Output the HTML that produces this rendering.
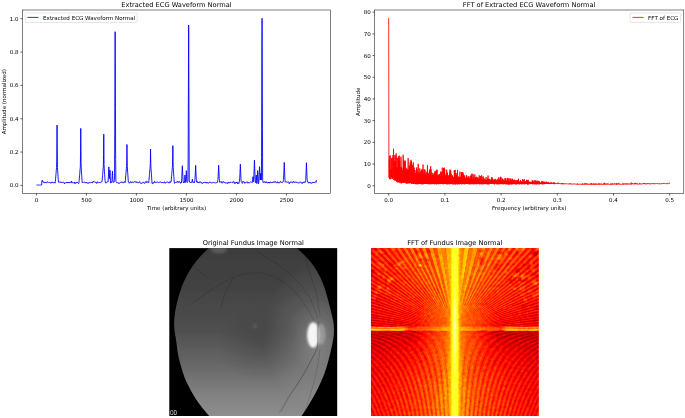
<!DOCTYPE html>
<html><head><meta charset="utf-8"><title>ECG and Fundus FFT</title>
<style>html,body{margin:0;padding:0;background:#fff}svg{display:block}</style></head>
<body>
<svg width="685" height="418" viewBox="0 0 685 418" font-family="'DejaVu Sans', 'Liberation Sans', sans-serif" fill="#000">
<defs>
<clipPath id="fclip"><polygon points="296.65,248.10 301.65,252.41 306.03,256.71 309.86,261.02 313.19,265.32 316.06,269.63 318.54,273.93 320.68,278.24 322.52,282.54 324.13,286.85 325.55,291.15 326.83,295.46 328.01,299.76 329.13,304.07 330.22,308.37 331.32,312.68 332.34,316.98 333.20,321.29 333.79,325.59 334.02,329.90 333.84,334.20 333.33,338.51 332.57,342.81 331.65,347.12 330.66,351.42 329.64,355.73 328.56,360.03 327.38,364.34 326.07,368.64 324.59,372.95 322.94,377.25 321.12,381.56 319.14,385.86 317.01,390.17 314.74,394.47 312.34,398.78 309.81,403.08 307.18,407.39 304.44,411.69 301.61,416.00 209.14,416.00 205.51,411.69 201.96,407.39 198.64,403.08 195.69,398.78 193.09,394.47 190.69,390.17 188.39,385.86 186.28,381.56 184.48,377.25 183.00,372.95 181.70,368.64 180.46,364.34 179.29,360.03 178.28,355.73 177.52,351.42 176.97,347.12 176.46,342.81 175.82,338.51 175.09,334.20 174.45,329.90 174.09,325.59 174.11,321.29 174.44,316.98 175.03,312.68 175.80,308.37 176.70,304.07 177.73,299.76 178.92,295.46 180.27,291.15 181.80,286.85 183.53,282.54 185.50,278.24 187.73,273.93 190.27,269.63 193.14,265.32 196.40,261.02 200.06,256.71 204.17,252.41 208.76,248.10"/></clipPath>
<clipPath id="fbox"><rect x="169.3" y="248.1" width="167.9" height="167.9"/></clipPath>
<linearGradient id="fg" x1="0" y1="0" x2="0" y2="1">
<stop offset="0" stop-color="#3d3d3d"/><stop offset="0.25" stop-color="#434343"/><stop offset="0.5" stop-color="#505050"/><stop offset="0.7" stop-color="#686868"/><stop offset="0.88" stop-color="#828282"/><stop offset="1" stop-color="#8e8e8e"/></linearGradient>
<radialGradient id="fdh" cx="0.5" cy="0.5" r="0.5"><stop offset="0" stop-color="#fff" stop-opacity="0.26"/><stop offset="0.5" stop-color="#fff" stop-opacity="0.09"/><stop offset="1" stop-color="#fff" stop-opacity="0"/></radialGradient>
<radialGradient id="fdark" cx="0.5" cy="0.5" r="0.5"><stop offset="0" stop-color="#000" stop-opacity="0.14"/><stop offset="1" stop-color="#000" stop-opacity="0"/></radialGradient>
<filter id="fb1" x="-50%" y="-50%" width="200%" height="200%"><feGaussianBlur stdDeviation="1.1"/></filter>
<filter id="fb2" x="-20%" y="-20%" width="140%" height="140%"><feGaussianBlur stdDeviation="0.45"/></filter>
<filter id="fb3" x="-5%" y="-5%" width="110%" height="110%"><feGaussianBlur stdDeviation="0.5"/></filter>
<filter id="hot" x="370.95" y="248.1" width="167.9" height="167.9" color-interpolation-filters="sRGB" filterUnits="userSpaceOnUse">
<feTurbulence type="fractalNoise" baseFrequency="0.33" numOctaves="2" seed="4" result="n"/>
<feColorMatrix in="n" type="matrix" values="0.6 0.6 0 0 -0.1  0.6 0.6 0 0 -0.1  0.6 0.6 0 0 -0.1  0 0 0 0 1" result="ng"/>
<feComposite in="SourceGraphic" in2="ng" operator="arithmetic" k1="0" k2="1" k3="0.14" k4="-0.07" result="tn"/>
<feComponentTransfer in="tn"><feFuncR type="table" tableValues="0.000 0.068 0.137 0.205 0.274 0.342 0.411 0.479 0.548 0.616 0.685 0.753 0.822 0.890 0.959 1.000 1.000 1.000 1.000 1.000 1.000 1.000 1.000 1.000 1.000 1.000 1.000 1.000 1.000 1.000 1.000 1.000 1.000 1.000 1.000 1.000 1.000 1.000 1.000 1.000 1.000"/><feFuncG type="table" tableValues="0.000 0.000 0.000 0.000 0.000 0.000 0.000 0.000 0.000 0.000 0.000 0.000 0.000 0.000 0.000 0.026 0.092 0.157 0.223 0.289 0.354 0.420 0.485 0.551 0.617 0.682 0.748 0.814 0.879 0.945 1.000 1.000 1.000 1.000 1.000 1.000 1.000 1.000 1.000 1.000 1.000"/><feFuncB type="table" tableValues="0.000 0.000 0.000 0.000 0.000 0.000 0.000 0.000 0.000 0.000 0.000 0.000 0.000 0.000 0.000 0.000 0.000 0.000 0.000 0.000 0.000 0.000 0.000 0.000 0.000 0.000 0.000 0.000 0.000 0.000 0.016 0.114 0.212 0.311 0.409 0.508 0.606 0.705 0.803 0.902 1.000"/></feComponentTransfer></filter>
<clipPath id="gbox"><rect x="370.95" y="248.1" width="167.9" height="167.9"/></clipPath>
<radialGradient id="grad" gradientUnits="userSpaceOnUse" cx="454.9" cy="332.05" r="120">
<stop offset="0" stop-color="#fff" stop-opacity="0.16"/><stop offset="0.25" stop-color="#fff" stop-opacity="0.06"/><stop offset="0.5" stop-color="#000" stop-opacity="0"/><stop offset="1" stop-color="#000" stop-opacity="0.10"/></radialGradient>
<linearGradient id="gv" x1="0" y1="0" x2="1" y2="0"><stop offset="0.0000" stop-color="#919191" stop-opacity="0.00"/><stop offset="0.1500" stop-color="#969696" stop-opacity="0.35"/><stop offset="0.2400" stop-color="#9e9e9e" stop-opacity="0.70"/><stop offset="0.3050" stop-color="#ababab" stop-opacity="0.95"/><stop offset="0.3500" stop-color="#c1c1c1" stop-opacity="1.00"/><stop offset="0.3900" stop-color="#c8c8c8" stop-opacity="1.00"/><stop offset="0.5000" stop-color="#cccccc" stop-opacity="1.00"/><stop offset="0.6100" stop-color="#c8c8c8" stop-opacity="1.00"/><stop offset="0.6500" stop-color="#c1c1c1" stop-opacity="1.00"/><stop offset="0.6950" stop-color="#ababab" stop-opacity="0.95"/><stop offset="0.7600" stop-color="#9e9e9e" stop-opacity="0.70"/><stop offset="0.8500" stop-color="#969696" stop-opacity="0.35"/><stop offset="1.0000" stop-color="#919191" stop-opacity="0.00"/></linearGradient>
<radialGradient id="gcore" cx="0.5" cy="0.5" r="0.5"><stop offset="0" stop-color="#fff" stop-opacity="0.9"/><stop offset="0.5" stop-color="#fff" stop-opacity="0.5"/><stop offset="1" stop-color="#fff" stop-opacity="0"/></radialGradient>
<linearGradient id="ghb" x1="0" y1="0" x2="1" y2="0">
<stop offset="0" stop-color="#fff" stop-opacity="0.34"/><stop offset="0.2" stop-color="#fff" stop-opacity="0.34"/><stop offset="0.23" stop-color="#fff" stop-opacity="0.14"/><stop offset="0.4" stop-color="#fff" stop-opacity="0.15"/><stop offset="0.5" stop-color="#fff" stop-opacity="0.28"/><stop offset="0.6" stop-color="#fff" stop-opacity="0.15"/><stop offset="0.77" stop-color="#fff" stop-opacity="0.14"/><stop offset="0.8" stop-color="#fff" stop-opacity="0.34"/><stop offset="1" stop-color="#fff" stop-opacity="0.34"/></linearGradient>
<radialGradient id="gcen" cx="0.5" cy="0.5" r="0.5"><stop offset="0" stop-color="#8f8f8f" stop-opacity="0.9"/><stop offset="0.3" stop-color="#858585" stop-opacity="0.6"/><stop offset="1" stop-color="#808080" stop-opacity="0"/></radialGradient>
<filter id="gb2" x="370.95" y="248.1" width="167.9" height="167.9" filterUnits="userSpaceOnUse"><feGaussianBlur stdDeviation="0.4"/></filter>
<filter id="gb" x="-5%" y="-50%" width="110%" height="200%"><feGaussianBlur stdDeviation="0.5"/></filter>
</defs>
<rect width="685" height="418" fill="#fff"/>
<path d="M36.45,185.05 36.65,185.05 36.85,185.05 37.05,185.05 37.25,185.05 37.45,185.05 37.65,185.05 37.85,185.05 38.05,185.05 38.25,185.05 38.45,185.05 38.65,185.05 38.85,185.05 39.05,185.05 39.25,185.05 39.45,185.05 39.65,185.05 39.85,185.05 40.05,185.05 40.25,185.05 40.45,185.05 40.65,185.05 40.85,185.05 41.05,185.05 41.25,185.05 41.45,185.05 41.65,185.05 41.95,180.38 42.05,180.38 42.25,180.38 42.45,180.38 42.65,181.72 42.85,181.72 43.05,181.72 43.25,181.72 43.55,182.41 43.75,181.89 43.95,181.92 44.05,181.98 44.35,182.56 44.45,182.57 44.75,182.74 44.95,182.90 45.15,182.45 45.35,182.12 45.45,182.07 45.65,182.70 45.95,182.43 46.05,182.45 46.35,182.36 46.45,182.65 46.75,182.81 46.85,182.35 47.15,181.89 47.35,181.84 47.55,181.82 47.75,182.25 47.85,182.21 48.15,182.49 48.25,182.35 48.55,182.37 48.65,182.28 48.95,182.08 49.15,181.96 49.25,182.04 49.55,182.38 49.65,182.71 49.85,182.91 50.15,183.23 50.35,182.71 50.55,182.78 50.65,182.66 50.85,182.77 51.05,183.02 51.25,182.94 51.55,183.01 51.75,182.26 51.95,182.16 52.15,181.91 52.25,182.29 52.45,181.93 52.75,182.43 52.95,182.33 53.15,182.70 53.25,182.92 53.55,182.87 53.75,182.71 53.95,182.34 54.05,182.57 54.35,182.52 54.55,182.58 54.65,182.35 54.95,183.01 55.05,183.14 55.35,181.55 55.55,179.22 55.75,176.88 55.95,174.55 56.15,172.21 56.35,169.88 56.55,167.55 56.75,161.05 56.95,137.04 57.05,125.04 57.25,149.04 57.45,167.55 57.65,170.46 57.85,173.38 58.05,176.30 58.25,179.22 58.45,182.13 58.65,182.39 58.85,182.40 59.15,182.60 59.25,182.41 59.55,182.20 59.75,181.97 59.95,181.63 60.15,181.81 60.25,181.88 60.55,182.31 60.65,182.08 60.95,181.90 61.05,182.17 61.35,182.53 61.55,182.68 61.75,182.30 61.85,182.39 62.15,182.54 62.25,182.34 62.55,182.37 62.65,182.10 62.85,182.50 63.15,182.27 63.35,182.26 63.45,182.07 63.75,181.99 63.85,182.10 64.15,182.69 64.25,182.93 64.45,183.77 64.65,183.26 64.95,183.18 65.15,182.97 65.25,183.04 65.55,182.90 65.75,182.71 65.95,182.43 66.15,182.24 66.25,182.07 66.55,182.75 66.75,182.74 66.95,182.47 67.05,182.38 67.25,182.95 67.45,182.87 67.75,182.86 67.95,182.15 68.05,182.55 68.35,182.17 68.45,182.86 68.65,182.73 68.95,183.01 69.15,182.50 69.35,182.54 69.45,182.33 69.65,182.78 69.85,182.80 70.15,182.66 70.35,182.28 70.55,182.43 70.65,182.62 70.95,182.64 71.05,182.10 71.35,181.06 71.45,181.21 71.75,182.03 71.85,182.95 72.15,183.09 72.35,182.81 72.55,182.45 72.75,182.51 72.85,182.59 73.05,182.66 73.25,182.84 73.55,182.72 73.75,182.44 73.95,182.33 74.05,182.37 74.35,182.31 74.45,182.14 74.65,183.16 74.85,183.80 75.15,183.66 75.35,182.72 75.45,182.89 75.75,183.09 75.85,183.10 76.15,182.42 76.25,182.11 76.55,182.33 76.65,182.55 76.85,182.74 77.05,182.58 77.35,182.03 77.45,182.42 77.75,182.52 77.85,182.78 78.05,182.93 78.25,183.29 78.45,183.60 78.75,183.49 78.95,182.72 79.15,180.38 79.35,178.05 79.55,175.71 79.75,173.38 79.95,171.05 80.15,168.71 80.35,166.38 80.55,151.04 80.75,128.37 80.85,139.71 81.05,162.38 81.25,169.01 81.45,171.92 81.65,174.84 81.85,177.76 82.05,180.67 82.25,182.52 82.55,182.94 82.75,182.58 82.85,182.54 83.15,182.18 83.25,182.19 83.55,182.27 83.75,182.30 83.85,182.20 84.05,182.28 84.25,182.14 84.55,182.11 84.75,182.29 84.85,182.63 85.05,182.92 85.35,182.95 85.45,182.69 85.75,182.88 85.85,182.56 86.15,182.97 86.25,182.41 86.45,182.95 86.75,182.79 86.95,182.87 87.15,182.61 87.25,182.61 87.45,183.03 87.65,183.40 87.95,183.48 88.15,183.22 88.35,183.43 88.55,183.31 88.75,182.75 88.85,182.27 89.15,182.26 89.25,182.19 89.45,182.74 89.65,182.80 89.95,182.80 90.15,182.56 90.35,182.43 90.45,182.48 90.75,182.75 90.95,182.64 91.15,182.53 91.25,182.07 91.45,182.29 91.75,182.68 91.85,182.73 92.15,182.96 92.25,182.56 92.55,182.80 92.75,182.07 92.95,181.81 93.15,181.19 93.35,181.61 93.55,181.61 93.65,181.90 93.95,181.85 94.05,181.85 94.25,182.16 94.45,182.00 94.75,181.82 94.95,181.68 95.05,181.77 95.35,182.02 95.45,182.01 95.65,182.54 95.85,182.72 96.05,182.43 96.25,182.45 96.45,182.88 96.65,183.49 96.95,182.95 97.15,182.03 97.35,181.67 97.45,181.93 97.65,182.18 97.85,182.54 98.05,182.67 98.25,182.71 98.45,182.51 98.75,182.69 98.85,182.81 99.15,182.70 99.25,182.82 99.45,182.53 99.65,182.20 99.85,182.62 100.15,182.77 100.35,182.43 100.55,182.38 100.65,182.41 100.85,182.46 101.15,182.22 101.35,182.04 101.55,182.22 101.75,182.02 101.85,181.90 102.15,180.38 102.35,178.05 102.55,175.71 102.75,173.38 102.95,171.05 103.15,168.71 103.35,166.38 103.55,154.54 103.75,134.21 103.85,144.38 104.05,164.71 104.25,169.01 104.45,171.92 104.65,174.84 104.85,177.76 105.05,180.67 105.35,182.64 105.45,182.50 105.65,183.08 105.85,182.97 106.15,183.10 106.35,182.83 106.45,182.65 106.75,182.33 106.95,182.17 107.15,181.80 107.25,182.10 107.55,182.01 107.65,181.96 107.85,182.07 108.15,181.01 108.35,176.97 108.55,172.94 108.75,168.90 108.85,166.88 109.05,170.92 109.25,174.96 109.55,178.62 109.75,174.33 109.95,170.05 110.05,172.19 110.25,176.48 110.45,180.76 110.65,183.10 110.95,182.53 111.05,182.77 111.35,181.96 111.45,182.10 111.75,182.32 111.95,181.10 112.15,177.14 112.35,173.19 112.45,171.21 112.65,175.17 112.85,179.12 113.05,182.21 113.25,182.22 113.55,182.60 113.75,182.29 113.95,182.25 114.15,182.05 114.35,180.76 114.55,179.33 114.75,133.93 114.95,82.81 115.15,31.69 115.25,57.25 115.45,108.37 115.65,159.49 115.85,180.05 116.05,181.48 116.35,182.39 116.55,182.68 116.65,182.54 116.85,182.77 117.05,182.60 117.25,182.72 117.55,182.63 117.65,182.58 117.95,182.54 118.05,182.35 118.25,182.59 118.45,182.73 118.65,183.53 118.95,183.19 119.15,183.35 119.35,183.29 119.45,183.41 119.75,183.07 119.85,182.73 120.15,182.52 120.25,182.27 120.55,182.26 120.65,182.26 120.85,182.03 121.15,181.80 121.25,181.91 121.55,182.05 121.65,182.11 121.95,182.72 122.15,182.76 122.35,182.29 122.55,181.94 122.75,181.78 122.85,182.37 123.15,182.85 123.25,182.85 123.55,182.82 123.65,182.59 123.95,182.45 124.05,182.26 124.35,182.02 124.45,181.87 124.75,181.65 124.85,181.80 125.15,182.60 125.35,180.38 125.55,178.05 125.75,175.71 125.95,173.38 126.15,171.05 126.35,168.71 126.55,166.38 126.75,160.75 126.95,144.54 127.05,152.64 127.25,166.09 127.45,169.01 127.65,171.92 127.85,174.84 128.05,177.76 128.25,180.67 128.45,182.18 128.65,182.39 128.85,182.82 129.15,183.23 129.35,182.88 129.45,182.71 129.75,182.37 129.85,182.54 130.15,182.60 130.35,182.65 130.55,181.92 130.75,181.49 130.85,181.64 131.05,182.38 131.25,182.51 131.55,182.79 131.65,182.48 131.95,182.40 132.05,182.15 132.35,182.16 132.55,182.14 132.75,181.87 132.85,181.79 133.05,182.00 133.25,182.27 133.55,182.47 133.65,182.50 133.95,182.48 134.15,181.87 134.25,181.76 134.45,181.77 134.75,181.77 134.95,181.44 135.05,181.16 135.25,181.56 135.55,182.10 135.75,182.16 135.95,182.00 136.05,182.33 136.25,182.43 136.55,182.33 136.75,181.65 136.95,181.90 137.05,182.03 137.25,182.52 137.45,182.72 137.75,182.76 137.85,182.42 138.15,182.30 138.25,182.48 138.55,182.85 138.65,183.09 138.95,182.71 139.15,182.47 139.35,182.00 139.45,181.87 139.65,181.56 139.85,181.80 140.05,182.16 140.25,182.74 140.55,183.04 140.65,183.45 140.85,183.43 141.05,183.59 141.35,183.53 141.55,183.38 141.65,183.01 141.85,182.84 142.05,183.07 142.35,183.09 142.45,182.89 142.75,182.61 142.85,182.31 143.15,182.53 143.25,182.14 143.55,182.11 143.75,182.04 143.95,182.51 144.05,182.65 144.25,183.26 144.45,183.43 144.75,183.44 144.95,183.27 145.15,182.76 145.35,182.46 145.55,181.86 145.75,181.43 145.85,181.64 146.15,181.37 146.25,181.31 146.45,181.96 146.65,182.59 146.95,182.69 147.15,181.89 147.35,181.77 147.55,181.66 147.65,181.91 147.85,182.19 148.15,182.34 148.25,182.24 148.45,182.51 148.75,182.72 148.95,180.38 149.15,178.05 149.35,175.71 149.55,173.38 149.75,171.05 149.95,168.71 150.15,166.38 150.35,163.45 150.55,149.04 150.65,156.24 150.85,166.09 151.05,169.01 151.25,171.92 151.45,174.84 151.65,177.76 151.85,180.67 152.05,183.59 152.35,183.76 152.55,183.35 152.75,182.78 152.85,182.78 153.05,182.68 153.25,182.54 153.45,183.21 153.75,183.19 153.95,182.79 154.15,182.01 154.35,181.81 154.55,181.34 154.75,182.01 154.85,181.99 155.05,182.65 155.25,182.61 155.55,182.52 155.75,182.56 155.85,182.66 156.05,182.22 156.25,182.26 156.55,182.22 156.75,182.49 156.85,182.26 157.15,181.91 157.25,182.06 157.55,181.82 157.65,181.74 157.85,182.01 158.05,182.54 158.35,182.66 158.45,182.77 158.65,182.56 158.85,182.66 159.15,182.27 159.25,182.19 159.45,182.11 159.75,182.08 159.85,182.15 160.15,181.88 160.25,181.69 160.55,181.84 160.75,182.18 160.85,182.48 161.15,182.46 161.25,182.22 161.55,182.43 161.65,182.22 161.95,182.88 162.05,183.00 162.35,182.56 162.55,182.51 162.75,182.32 162.85,182.28 163.15,182.82 163.25,182.95 163.45,183.08 163.65,183.04 163.85,182.66 164.15,182.36 164.35,181.89 164.55,181.70 164.65,182.23 164.85,182.96 165.05,183.15 165.35,183.30 165.55,183.05 165.75,182.54 165.95,182.14 166.15,182.01 166.25,182.06 166.55,182.35 166.65,182.10 166.95,182.14 167.05,182.12 167.35,181.98 167.55,181.81 167.75,182.00 167.95,182.05 168.05,182.40 168.35,182.70 168.45,182.39 168.65,182.80 168.85,182.77 169.15,183.16 169.35,182.28 169.45,182.29 169.75,181.63 169.85,181.98 170.05,182.69 170.25,182.50 170.55,182.33 170.75,181.54 170.85,181.79 171.15,181.55 171.35,179.22 171.55,176.88 171.75,174.55 171.95,172.21 172.15,169.88 172.35,167.55 172.55,165.21 172.75,153.58 172.85,145.71 173.05,161.45 173.25,167.55 173.45,170.46 173.65,173.38 173.85,176.30 174.05,179.22 174.25,182.13 174.45,183.43 174.65,183.34 174.95,183.02 175.15,182.75 175.35,182.47 175.55,182.48 175.75,182.58 175.85,182.60 176.05,182.69 176.25,182.68 176.55,182.26 176.75,182.09 176.95,181.71 177.05,181.18 177.25,180.96 177.45,181.39 177.65,181.92 177.85,182.46 178.15,182.32 178.35,182.02 178.55,181.66 178.65,181.83 178.85,182.33 179.05,182.46 179.35,181.92 179.45,181.83 179.75,181.56 179.85,181.88 180.15,182.20 180.25,182.65 180.55,183.32 180.75,183.18 180.95,182.16 181.05,182.33 181.25,182.12 181.45,182.60 181.75,178.60 181.95,174.31 182.15,170.01 182.35,165.71 182.45,167.86 182.65,172.16 182.85,176.46 183.05,180.75 183.35,182.70 183.55,182.64 183.65,182.49 183.95,182.61 184.05,182.05 184.25,182.57 184.55,180.76 184.75,177.91 184.95,175.05 185.05,176.48 185.25,179.33 185.45,182.19 185.65,182.48 185.95,178.91 186.15,174.81 186.35,170.71 186.45,172.76 186.65,176.86 186.85,180.95 187.05,182.35 187.35,182.47 187.55,182.25 187.75,181.48 187.95,180.05 188.15,158.38 188.35,105.03 188.55,51.69 188.65,25.02 188.85,78.36 189.05,131.71 189.25,179.33 189.45,180.76 189.65,182.19 189.95,182.22 190.05,182.31 190.25,182.48 190.45,182.85 190.75,182.32 190.95,182.29 191.15,182.11 191.25,182.41 191.55,182.52 191.65,182.50 191.95,182.55 192.15,180.88 192.35,179.22 192.45,180.05 192.65,181.72 192.95,182.27 193.05,181.85 193.35,181.99 193.45,182.31 193.65,182.34 193.85,182.25 194.15,182.35 194.25,182.83 194.55,181.92 194.75,180.67 194.95,179.42 195.15,176.31 195.35,171.94 195.55,167.57 195.65,165.38 195.85,169.75 196.05,174.12 196.25,178.49 196.45,180.76 196.65,182.19 196.95,181.57 197.15,181.48 197.35,181.47 197.45,182.05 197.65,182.38 197.95,182.82 198.05,182.35 198.35,182.02 198.45,182.10 198.65,182.88 198.95,183.01 199.15,182.74 199.35,181.85 199.55,181.82 199.75,181.95 199.85,182.43 200.15,182.31 200.35,182.11 200.45,181.90 200.65,181.89 200.85,182.53 201.15,182.80 201.35,182.77 201.45,182.51 201.65,182.60 201.85,182.97 202.15,183.65 202.25,183.48 202.55,183.18 202.65,183.07 202.95,183.34 203.15,182.82 203.35,182.31 203.45,182.39 203.65,182.71 203.95,182.40 204.15,182.32 204.25,182.19 204.45,182.61 204.65,182.43 204.85,182.11 205.05,182.38 205.25,182.70 205.55,182.92 205.75,182.33 205.95,182.42 206.15,182.29 206.25,182.59 206.45,182.32 206.65,183.14 206.95,183.00 207.15,182.76 207.25,182.35 207.45,182.52 207.65,182.79 207.85,183.11 208.05,182.98 208.35,183.29 208.55,182.89 208.75,182.95 208.95,182.61 209.15,182.16 209.35,182.19 209.55,182.34 209.75,182.20 209.85,182.67 210.05,182.32 210.25,182.53 210.45,182.10 210.65,182.15 210.85,182.21 211.05,182.57 211.25,182.72 211.45,183.03 211.75,183.13 211.95,183.27 212.15,183.23 212.35,182.72 212.45,182.69 212.75,182.45 212.95,182.68 213.15,182.43 213.25,182.49 213.45,182.48 213.65,182.51 213.95,182.75 214.15,183.06 214.35,182.95 214.55,182.87 214.75,182.50 214.85,182.52 215.05,182.60 215.25,182.92 215.55,183.10 215.75,182.88 215.85,182.90 216.15,183.11 216.35,182.77 216.55,182.55 216.65,182.41 216.85,182.62 217.05,182.75 217.35,182.48 217.55,181.92 217.75,180.67 217.95,179.42 218.15,176.23 218.35,171.83 218.55,167.42 218.65,165.21 218.85,169.62 219.05,174.03 219.25,178.44 219.45,180.76 219.65,182.19 219.85,182.22 220.05,181.98 220.25,181.84 220.55,182.19 220.65,182.03 220.85,181.94 221.05,181.50 221.35,181.82 221.45,181.75 221.65,182.77 221.85,183.05 222.15,183.34 222.35,182.71 222.55,182.12 222.65,181.82 222.95,182.07 223.05,181.88 223.35,181.66 223.45,181.57 223.75,182.35 223.85,182.62 224.15,182.12 224.25,182.18 224.55,182.33 224.65,182.56 224.85,182.84 225.15,182.76 225.25,183.08 225.55,182.80 225.65,183.09 225.95,183.13 226.15,183.14 226.35,182.99 226.45,182.74 226.65,182.81 226.85,183.06 227.05,183.40 227.35,183.45 227.55,183.42 227.75,182.56 227.95,182.13 228.05,182.11 228.35,182.41 228.45,183.01 228.75,183.17 228.85,183.08 229.05,182.63 229.35,182.37 229.55,182.58 229.65,182.89 229.95,182.65 230.05,182.69 230.35,182.10 230.45,182.38 230.75,182.19 230.95,182.23 231.15,182.01 231.25,181.93 231.45,182.13 231.65,182.29 231.95,182.58 232.05,182.69 232.35,182.72 232.55,182.32 232.75,181.80 232.85,181.87 233.05,182.15 233.25,182.19 233.55,181.79 233.65,181.41 233.85,181.85 234.05,182.24 234.25,183.33 234.55,183.67 234.75,183.21 234.95,182.77 235.05,182.34 235.25,182.77 235.45,183.32 235.75,183.15 235.95,182.39 236.05,182.23 236.25,182.22 236.55,182.77 236.75,182.51 236.95,182.02 237.05,181.91 237.25,182.52 237.45,183.28 237.75,183.92 237.95,183.13 238.15,182.60 238.35,182.63 238.45,182.89 238.75,183.49 238.85,183.48 239.15,182.55 239.35,181.30 239.55,180.05 239.75,178.10 239.95,173.47 240.15,168.84 240.35,164.21 240.45,166.53 240.65,171.16 240.85,175.79 241.05,180.05 241.25,181.48 241.45,181.79 241.75,182.13 241.85,182.52 242.05,182.94 242.25,183.33 242.55,183.32 242.75,182.07 242.95,181.45 243.05,181.25 243.25,181.70 243.55,181.74 243.75,181.56 243.95,181.67 244.05,181.69 244.25,182.38 244.45,183.23 244.65,183.09 244.95,182.85 245.15,182.48 245.25,183.02 245.55,183.14 245.75,182.84 245.95,182.50 246.05,182.37 246.25,182.25 246.45,182.21 246.75,182.01 246.95,181.86 247.15,181.66 247.25,181.78 247.45,182.26 247.65,182.85 247.85,183.23 248.15,182.52 248.25,182.22 248.45,182.34 248.75,182.60 248.95,182.98 249.05,182.92 249.25,182.91 249.45,182.88 249.75,182.69 249.95,182.48 250.05,182.40 250.35,181.98 250.45,181.84 250.75,181.74 250.95,181.64 251.05,181.84 251.35,181.96 251.45,182.01 251.75,182.45 251.85,182.49 252.15,182.45 252.25,182.53 252.55,181.48 252.75,179.10 252.95,176.72 253.05,177.91 253.25,180.29 253.45,181.71 253.75,179.53 253.95,174.01 254.15,168.49 254.35,162.97 254.45,160.21 254.65,165.73 254.85,171.25 255.05,176.77 255.25,182.29 255.55,182.84 255.75,182.19 255.95,179.33 256.15,176.48 256.25,175.05 256.45,177.91 256.65,180.76 256.85,183.57 257.15,180.95 257.35,176.86 257.55,172.76 257.65,170.71 257.85,174.81 258.05,178.91 258.25,182.45 258.45,183.69 258.75,183.01 258.95,178.94 259.15,174.86 259.35,170.79 259.55,166.71 259.65,168.75 259.85,172.83 260.05,176.90 260.35,180.05 260.55,176.72 260.75,173.38 260.85,175.05 261.05,178.38 261.35,180.05 261.55,157.27 261.75,101.70 261.95,46.13 262.05,18.35 262.25,73.92 262.45,129.48 262.65,179.33 262.85,180.76 263.05,182.19 263.35,182.71 263.55,182.35 263.65,182.17 263.95,181.83 264.05,181.67 264.35,181.68 264.45,181.97 264.65,182.42 264.85,182.57 265.05,182.46 265.35,182.63 265.45,182.94 265.75,182.52 265.95,182.10 266.05,181.51 266.25,181.93 266.55,182.01 266.65,182.36 266.95,182.28 267.05,182.67 267.35,183.11 267.55,183.11 267.75,182.66 267.95,182.42 268.05,182.28 268.35,182.35 268.45,182.07 268.65,182.99 268.85,182.64 269.15,183.20 269.35,182.41 269.55,182.73 269.75,182.67 269.85,182.97 270.15,182.54 270.35,182.14 270.45,181.82 270.65,182.08 270.85,182.46 271.15,182.44 271.25,182.64 271.55,182.73 271.75,182.66 271.95,182.00 272.05,182.26 272.25,182.33 272.45,182.54 272.75,181.98 272.95,181.91 273.05,182.06 273.25,182.30 273.45,182.43 273.75,181.80 273.85,181.59 274.15,181.49 274.25,181.55 274.55,182.38 274.65,182.34 274.95,182.14 275.05,182.11 275.35,181.93 275.45,181.68 275.65,181.72 275.85,182.03 276.05,182.76 276.25,182.74 276.55,183.08 276.75,182.73 276.95,182.39 277.05,181.96 277.35,182.19 277.45,181.72 277.65,182.38 277.85,182.36 278.05,182.86 278.35,183.17 278.55,182.84 278.75,182.39 278.85,182.10 279.15,182.33 279.35,182.78 279.45,182.81 279.65,182.76 279.95,182.62 280.15,182.07 280.35,181.38 280.45,181.44 280.65,181.50 280.95,182.35 281.15,182.51 281.25,182.48 281.45,182.31 281.75,182.32 281.95,182.33 282.15,182.62 282.25,182.83 282.55,182.43 282.65,182.11 282.95,181.98 283.15,181.92 283.35,180.67 283.55,179.42 283.75,174.97 283.95,169.94 284.15,164.90 284.25,162.38 284.45,167.42 284.65,172.45 284.85,177.49 285.05,180.76 285.25,182.19 285.45,181.99 285.75,182.03 285.95,181.77 286.15,181.76 286.25,181.87 286.45,181.85 286.75,182.39 286.95,182.51 287.15,182.41 287.25,182.21 287.45,182.20 287.75,182.06 287.95,181.75 288.05,181.86 288.25,181.89 288.45,181.90 288.65,182.04 288.85,182.60 289.05,182.99 289.25,183.87 289.55,183.29 289.75,183.03 289.95,182.12 290.05,181.98 290.25,181.97 290.45,182.11 290.75,182.23 290.95,182.13 291.05,182.22 291.35,182.15 291.45,181.96 291.75,181.99 291.85,182.13 292.15,182.85 292.25,182.80 292.55,182.95 292.75,182.74 292.95,181.78 293.15,181.65 293.25,181.23 293.45,181.82 293.65,181.83 293.85,182.18 294.05,182.11 294.25,182.12 294.55,182.07 294.65,182.33 294.95,182.47 295.05,182.47 295.35,181.90 295.55,181.84 295.75,182.21 295.95,182.42 296.05,182.17 296.25,181.88 296.45,182.44 296.75,182.23 296.95,182.11 297.05,182.15 297.25,182.19 297.45,182.38 297.75,182.37 297.85,182.58 298.05,182.46 298.25,182.77 298.45,183.10 298.75,183.40 298.85,183.33 299.15,182.85 299.25,182.78 299.55,182.43 299.65,182.22 299.95,181.98 300.05,181.79 300.25,182.24 300.45,182.12 300.65,182.39 300.85,182.53 301.05,182.69 301.25,183.11 301.55,183.07 301.65,182.82 301.85,182.62 302.05,183.19 302.35,183.57 302.55,182.95 302.75,182.35 302.85,182.19 303.05,182.25 303.25,182.48 303.55,182.55 303.65,182.61 303.95,181.90 304.05,181.73 304.35,182.42 304.45,182.67 304.75,182.43 304.85,182.32 305.15,182.49 305.35,181.92 305.55,180.67 305.75,179.42 305.95,175.12 306.15,170.16 306.35,165.19 306.45,162.71 306.65,167.68 306.85,172.64 307.05,177.60 307.25,180.76 307.55,182.13 307.75,181.86 307.85,181.71 308.05,182.21 308.25,182.37 308.55,182.58 308.65,183.07 308.85,183.17 309.05,183.16 309.35,182.43 309.55,182.81 309.75,182.46 309.85,182.38 310.05,181.98 310.35,182.54 310.45,182.80 310.75,183.02 310.85,183.01 311.15,183.16 311.25,183.44 311.55,182.96 311.65,182.89 311.85,182.71 312.05,182.67 312.25,182.86 312.55,182.95 312.75,182.88 312.95,182.01 313.05,182.07 313.25,182.54 313.45,182.93 313.75,182.29 313.85,182.11 314.05,181.93 314.25,182.34 314.45,182.56 314.75,182.61 314.95,182.47 315.15,181.93 315.25,181.78 315.45,181.61 315.65,181.71 315.95,182.24 316.15,182.32 316.35,180.72 316.45,180.05" fill="none" stroke="#0000ff" stroke-width="0.9" stroke-linejoin="round"/>
<rect x="22.5" y="10.0" width="308.00" height="183.40" fill="none" stroke="#000" stroke-width="0.5"/>
<path d="M36.45,193.4v2.1 M86.45,193.4v2.1 M136.45,193.4v2.1 M186.45,193.4v2.1 M236.45,193.4v2.1 M286.45,193.4v2.1 M22.5,185.40h-2.1 M22.5,152.06h-2.1 M22.5,118.72h-2.1 M22.5,85.38h-2.1 M22.5,52.04h-2.1 M22.5,18.70h-2.1" stroke="#000" stroke-width="0.6" fill="none"/>
<text x="36.45" y="202.15" font-size="5.55" text-anchor="middle">0</text>
<text x="86.45" y="202.15" font-size="5.55" text-anchor="middle">500</text>
<text x="136.45" y="202.15" font-size="5.55" text-anchor="middle">1000</text>
<text x="186.45" y="202.15" font-size="5.55" text-anchor="middle">1500</text>
<text x="236.45" y="202.15" font-size="5.55" text-anchor="middle">2000</text>
<text x="286.45" y="202.15" font-size="5.55" text-anchor="middle">2500</text>
<text x="18.60" y="187.45" font-size="5.55" text-anchor="end">0.0</text>
<text x="18.60" y="154.11" font-size="5.55" text-anchor="end">0.2</text>
<text x="18.60" y="120.77" font-size="5.55" text-anchor="end">0.4</text>
<text x="18.60" y="87.43" font-size="5.55" text-anchor="end">0.6</text>
<text x="18.60" y="54.09" font-size="5.55" text-anchor="end">0.8</text>
<text x="18.60" y="20.75" font-size="5.55" text-anchor="end">1.0</text>
<text x="176.50" y="6.70" font-size="6.66" text-anchor="middle">Extracted ECG Waveform Normal</text>
<text x="176.50" y="209.60" font-size="5.55" text-anchor="middle">Time (arbitrary units)</text>
<text transform="translate(6.4,101.7) rotate(-90)" font-size="5.55" text-anchor="middle">Amplitude (normalized)</text>
<rect x="25.2" y="13" width="112" height="9.5" rx="1.1" fill="#fff" fill-opacity="0.8" stroke="#ccc" stroke-width="0.5"/>
<path d="M27.4,17.4h11.1" stroke="#0000ff" stroke-width="0.83"/>
<text x="43.10" y="19.55" font-size="5.55" text-anchor="start">Extracted ECG Waveform Normal</text>
<path d="M388.70,17.88 388.90,172.38 389.10,177.90 389.30,160.40 389.50,178.93 389.70,156.00 389.90,174.93 390.10,155.45 390.31,179.34 390.51,169.54 390.71,176.27 390.91,170.21 391.11,177.21 391.31,158.28 391.51,177.13 391.71,169.96 391.91,178.96 392.11,157.92 392.31,176.97 392.51,168.34 392.71,178.98 392.91,155.30 393.12,177.21 393.32,165.98 393.52,148.73 393.72,160.30 393.92,179.97 394.12,155.09 394.32,180.39 394.52,161.09 394.72,178.68 394.92,165.14 395.12,180.57 395.32,161.05 395.52,180.46 395.72,155.31 395.93,179.84 396.13,153.28 396.33,179.57 396.53,167.51 396.73,181.89 396.93,169.39 397.13,181.62 397.33,157.79 397.53,182.10 397.73,167.12 397.93,182.35 398.13,169.08 398.33,182.20 398.53,156.32 398.74,182.08 398.94,159.83 399.14,181.06 399.34,155.71 399.54,182.30 399.74,161.03 399.94,182.87 400.14,166.88 400.34,183.18 400.54,169.28 400.74,182.28 400.94,156.71 401.14,181.71 401.34,166.91 401.55,183.32 401.75,168.13 401.95,182.93 402.15,169.98 402.35,182.20 402.55,169.99 402.75,182.97 402.95,170.37 403.15,154.80 403.35,161.18 403.55,182.94 403.75,159.88 403.95,182.55 404.15,168.18 404.36,182.08 404.56,161.31 404.76,182.37 404.96,170.00 405.16,182.86 405.36,160.61 405.56,182.70 405.76,170.06 405.96,183.35 406.16,167.82 406.36,182.66 406.56,170.76 406.76,183.50 406.96,170.47 407.17,183.62 407.37,168.89 407.57,182.93 407.77,171.22 407.97,182.51 408.17,158.08 408.37,183.48 408.57,169.76 408.77,182.78 408.97,171.47 409.17,182.94 409.37,165.36 409.57,183.31 409.77,167.08 409.98,182.94 410.18,162.45 410.38,182.80 410.58,172.10 410.78,183.06 410.98,159.81 411.18,183.36 411.38,161.02 411.58,183.97 411.78,163.77 411.98,183.12 412.18,170.51 412.38,183.21 412.58,165.36 412.79,183.89 412.99,169.77 413.19,183.10 413.39,162.44 413.59,183.96 413.79,170.67 413.99,183.96 414.19,167.59 414.39,183.55 414.59,172.62 414.79,183.37 414.99,170.12 415.19,184.18 415.39,172.94 415.60,183.46 415.80,173.71 416.00,184.05 416.20,173.79 416.40,184.21 416.60,167.47 416.80,183.93 417.00,168.87 417.20,183.66 417.40,173.57 417.60,184.20 417.80,171.43 418.00,184.26 418.20,163.80 418.41,183.59 418.61,173.00 418.81,183.61 419.01,174.17 419.21,183.84 419.41,174.24 419.61,183.52 419.81,168.35 420.01,183.69 420.21,172.24 420.41,183.74 420.61,174.28 420.81,184.11 421.01,171.05 421.22,183.78 421.42,170.36 421.62,184.15 421.82,169.35 422.02,184.30 422.22,174.03 422.42,184.14 422.62,169.47 422.82,183.70 423.02,164.59 423.22,183.79 423.42,174.35 423.62,184.26 423.82,172.56 424.03,183.79 424.23,169.08 424.43,183.51 424.63,171.13 424.83,183.86 425.03,169.86 425.23,183.56 425.43,174.45 425.63,183.92 425.83,174.27 426.03,183.94 426.23,173.10 426.43,184.01 426.63,172.46 426.84,183.63 427.04,171.78 427.24,183.87 427.44,165.35 427.64,183.52 427.84,173.97 428.04,184.24 428.24,172.88 428.44,183.88 428.64,174.70 428.84,183.55 429.04,175.23 429.24,183.73 429.44,169.52 429.65,184.30 429.85,175.37 430.05,183.80 430.25,172.49 430.45,184.18 430.65,166.21 430.85,183.93 431.05,169.35 431.25,183.53 431.45,175.55 431.65,184.15 431.85,172.53 432.05,183.91 432.25,174.60 432.46,183.62 432.66,175.52 432.86,183.96 433.06,173.16 433.26,184.15 433.46,175.02 433.66,183.98 433.86,174.74 434.06,184.06 434.26,175.58 434.46,184.14 434.66,172.51 434.86,184.05 435.06,170.81 435.27,183.69 435.47,174.77 435.67,183.66 435.87,171.63 436.07,184.25 436.27,171.18 436.47,184.11 436.67,169.88 436.87,184.26 437.07,169.81 437.27,183.61 437.47,175.94 437.67,183.74 437.88,175.18 438.08,183.97 438.28,175.53 438.48,184.22 438.68,174.62 438.88,184.07 439.08,176.09 439.28,183.93 439.48,173.92 439.68,184.06 439.88,175.34 440.08,183.56 440.28,176.12 440.48,184.06 440.69,171.51 440.89,183.98 441.09,174.16 441.29,183.79 441.49,172.04 441.69,183.94 441.89,176.29 442.09,183.65 442.29,167.60 442.49,184.05 442.69,175.99 442.89,183.91 443.09,170.79 443.29,184.31 443.50,167.99 443.70,183.62 443.90,176.43 444.10,183.55 444.30,167.60 444.50,183.67 444.70,169.02 444.90,183.54 445.10,176.08 445.30,183.90 445.50,176.55 445.70,183.53 445.90,174.76 446.10,184.17 446.31,173.63 446.51,184.09 446.71,169.67 446.91,183.84 447.11,174.69 447.31,184.34 447.51,172.54 447.71,184.18 447.91,175.26 448.11,183.66 448.31,176.52 448.51,184.12 448.71,175.42 448.91,184.16 449.12,176.00 449.32,184.20 449.52,173.58 449.72,183.88 449.92,169.47 450.12,183.58 450.32,172.13 450.52,183.83 450.72,170.57 450.92,184.13 451.12,173.80 451.32,183.93 451.52,176.61 451.72,183.94 451.93,175.15 452.13,183.95 452.33,175.70 452.53,184.18 452.73,176.79 452.93,184.16 453.13,177.04 453.33,184.16 453.53,177.24 453.73,184.33 453.93,177.11 454.13,184.10 454.33,170.20 454.53,183.80 454.74,170.94 454.94,184.24 455.14,169.88 455.34,184.34 455.54,176.51 455.74,184.18 455.94,173.24 456.14,183.98 456.34,175.28 456.54,183.64 456.74,177.50 456.94,184.21 457.14,173.12 457.34,184.15 457.54,169.83 457.75,184.35 457.95,177.60 458.15,183.88 458.35,176.55 458.55,184.13 458.75,177.69 458.95,183.99 459.15,177.71 459.35,184.25 459.55,177.41 459.75,183.78 459.95,171.70 460.15,183.94 460.36,177.23 460.56,183.99 460.76,177.85 460.96,183.75 461.16,176.39 461.36,184.31 461.56,172.43 461.76,184.28 461.96,172.30 462.16,183.73 462.36,173.58 462.56,183.90 462.76,171.97 462.96,183.68 463.16,175.82 463.37,183.75 463.57,173.60 463.77,184.11 463.97,174.98 464.17,184.21 464.37,176.00 464.57,184.21 464.77,176.79 464.97,183.60 465.17,178.23 465.37,183.76 465.57,177.94 465.77,184.07 465.98,178.14 466.18,183.96 466.38,175.23 466.58,183.59 466.78,175.50 466.98,183.80 467.18,178.33 467.38,183.56 467.58,178.01 467.78,183.81 467.98,176.86 468.18,183.72 468.38,178.13 468.58,184.10 468.78,176.09 468.99,184.02 469.19,178.40 469.39,184.33 469.59,178.55 469.79,183.58 469.99,178.19 470.19,184.13 470.39,175.92 470.59,183.59 470.79,177.60 470.99,184.30 471.19,174.59 471.39,183.79 471.59,176.29 471.80,183.93 472.00,173.55 472.20,184.07 472.40,178.75 472.60,183.70 472.80,178.90 473.00,184.27 473.20,174.29 473.40,184.12 473.60,178.95 473.80,183.68 474.00,177.32 474.20,183.68 474.40,178.43 474.61,184.23 474.81,174.40 475.01,184.05 475.21,177.85 475.41,184.07 475.61,177.46 475.81,183.76 476.01,179.26 476.21,184.04 476.41,176.76 476.61,184.26 476.81,178.73 477.01,183.62 477.21,179.37 477.42,183.97 477.62,177.24 477.82,183.99 478.02,178.18 478.22,183.92 478.42,178.52 478.62,184.04 478.82,179.56 479.02,183.78 479.22,175.34 479.42,184.33 479.62,179.18 479.82,183.84 480.02,176.68 480.23,183.82 480.43,175.97 480.63,184.13 480.83,179.54 481.03,184.05 481.23,178.93 481.43,184.28 481.63,175.16 481.83,183.68 482.03,176.76 482.23,184.25 482.43,179.78 482.63,183.67 482.83,179.05 483.04,183.70 483.24,176.45 483.44,184.28 483.64,179.86 483.84,184.06 484.04,178.46 484.24,183.64 484.44,178.93 484.64,183.73 484.84,179.91 485.04,184.08 485.24,179.94 485.44,183.66 485.64,179.50 485.85,184.14 486.05,177.08 486.25,183.68 486.45,180.01 486.65,184.27 486.85,180.00 487.05,183.80 487.25,179.41 487.45,184.23 487.65,178.03 487.85,184.03 488.05,175.55 488.25,184.35 488.45,180.28 488.66,183.71 488.86,178.93 489.06,184.38 489.26,180.06 489.46,183.92 489.66,178.76 489.86,183.78 490.06,180.38 490.26,184.01 490.46,179.66 490.66,184.00 490.86,180.15 491.06,183.66 491.26,179.77 491.47,183.91 491.67,177.14 491.87,183.61 492.07,180.34 492.27,184.05 492.47,177.79 492.67,183.87 492.87,179.28 493.07,183.72 493.27,180.55 493.47,183.84 493.67,180.54 493.87,184.03 494.07,179.59 494.28,184.32 494.48,179.84 494.68,184.30 494.88,179.22 495.08,183.92 495.28,180.75 495.48,183.88 495.68,178.87 495.88,183.77 496.08,180.69 496.28,183.77 496.48,180.71 496.68,184.28 496.88,180.30 497.09,183.69 497.29,179.55 497.49,184.12 497.69,179.99 497.89,184.33 498.09,178.79 498.29,184.25 498.49,180.92 498.69,183.90 498.89,177.17 499.09,183.69 499.29,178.84 499.49,184.15 499.69,180.49 499.90,183.65 500.10,180.97 500.30,184.20 500.50,176.83 500.70,183.65 500.90,176.98 501.10,183.71 501.30,180.37 501.50,183.75 501.70,179.92 501.90,184.05 502.10,178.07 502.30,183.95 502.50,179.19 502.71,184.19 502.91,180.76 503.11,184.35 503.31,179.46 503.51,183.68 503.71,181.26 503.91,183.92 504.11,180.91 504.31,183.95 504.51,181.23 504.71,183.66 504.91,178.24 505.11,184.24 505.31,178.89 505.52,184.15 505.72,178.40 505.92,183.97 506.12,181.38 506.32,183.82 506.52,180.59 506.72,184.29 506.92,181.37 507.12,184.26 507.32,177.87 507.52,183.72 507.72,181.41 507.92,184.34 508.12,178.81 508.33,184.25 508.53,180.59 508.73,184.28 508.93,178.26 509.13,184.35 509.33,181.27 509.53,184.27 509.73,181.42 509.93,184.35 510.13,178.40 510.33,183.95 510.53,181.54 510.73,184.16 510.94,178.82 511.14,183.90 511.34,179.57 511.54,184.41 511.74,181.68 511.94,184.36 512.14,181.02 512.34,183.88 512.54,178.74 512.74,184.02 512.94,181.21 513.14,184.23 513.34,180.17 513.54,184.09 513.75,179.89 513.95,184.07 514.15,179.87 514.35,183.65 514.55,179.77 514.75,184.07 514.95,181.83 515.15,184.00 515.35,181.82 515.55,184.37 515.75,180.13 515.95,183.86 516.15,180.95 516.35,184.34 516.55,181.76 516.76,184.36 516.96,180.16 517.16,183.73 517.36,181.83 517.56,183.86 517.76,179.86 517.96,183.68 518.16,181.43 518.36,184.03 518.56,178.81 518.76,184.06 518.96,181.54 519.16,184.31 519.37,181.65 519.57,184.25 519.77,181.94 519.97,183.88 520.17,181.53 520.37,183.77 520.57,179.97 520.77,183.90 520.97,182.03 521.17,184.16 521.37,181.94 521.57,184.36 521.77,181.27 521.97,183.91 522.17,182.16 522.38,184.13 522.58,179.08 522.78,183.73 522.98,182.17 523.18,183.99 523.38,181.85 523.58,183.73 523.78,180.04 523.98,184.31 524.18,179.17 524.38,184.10 524.58,181.34 524.78,184.23 524.99,181.60 525.19,183.82 525.39,182.04 525.59,184.01 525.79,181.07 525.99,184.07 526.19,182.15 526.39,183.77 526.59,179.86 526.79,183.66 526.99,181.31 527.19,184.27 527.39,180.27 527.59,184.40 527.79,180.73 528.00,184.42 528.20,179.79 528.40,183.89 528.60,182.42 528.80,184.34 529.00,182.41 529.20,183.88 529.40,182.17 529.60,184.13 529.80,181.50 530.00,183.73 530.20,181.89 530.40,184.02 530.61,182.46 530.81,183.88 531.01,182.54 531.21,184.02 531.41,182.17 531.61,183.87 531.81,182.53 532.01,183.91 532.21,180.24 532.41,184.07 532.61,180.82 532.81,184.37 533.01,182.62 533.21,183.75 533.41,182.55 533.62,183.81 533.82,181.41 534.02,183.81 534.22,180.10 534.42,184.35 534.62,182.58 534.82,183.93 535.02,182.67 535.22,184.12 535.42,180.62 535.62,184.14 535.82,180.71 536.02,184.29 536.23,180.76 536.43,184.19 536.63,182.16 536.83,184.13 537.03,182.20 537.23,183.95 537.43,182.71 537.63,184.17 537.83,180.54 538.03,184.13 538.23,181.33 538.43,184.06 538.63,182.75 538.83,184.32 539.03,181.05 539.24,183.91 539.44,182.77 539.64,184.24 539.84,182.34 540.04,183.60 540.24,182.41 540.44,183.54 540.64,182.92 540.84,183.97 541.04,182.84 541.24,184.14 541.44,182.66 541.64,183.78 541.85,180.93 542.05,184.16 542.25,182.72 542.45,184.27 542.65,182.53 542.85,184.17 543.05,181.34 543.25,183.80 543.45,181.92 543.65,183.54 543.85,182.74 544.05,184.28 544.25,182.05 544.45,183.87 544.65,181.64 544.86,183.50 545.06,182.94 545.26,183.58 545.46,182.32 545.66,183.95 545.86,182.88 546.06,183.68 546.26,181.64 546.46,183.95 546.66,183.14 546.86,183.68 547.06,182.22 547.26,183.94 547.46,183.21 547.67,183.91 547.87,181.98 548.07,183.77 548.27,183.08 548.47,184.02 548.67,182.27 548.87,183.45 549.07,183.15 549.27,183.94 549.47,183.20 549.67,183.72 549.87,182.84 550.07,184.11 550.27,183.33 550.48,183.43 550.68,182.68 550.88,183.86 551.08,182.41 551.28,183.76 551.48,183.14 551.68,183.64 551.88,182.42 552.08,183.93 552.28,183.34 552.48,183.53 552.68,183.38 552.88,183.85 553.09,183.39 553.29,183.66 553.49,183.22 553.69,183.94 553.89,182.00 554.09,184.14 554.29,183.34 554.49,183.58 554.69,182.83 554.89,184.14 555.09,183.32 555.29,183.90 555.49,183.45 555.69,183.43 555.89,183.10 556.10,183.48 556.30,183.50 556.50,183.42 556.70,183.07 556.90,183.63 557.10,183.43 557.30,183.35 557.50,183.16 557.70,184.10 557.90,182.73 558.10,183.99 558.30,183.60 558.50,183.63 558.70,183.41 558.91,183.70 559.11,183.32 559.31,183.58 559.51,183.58 559.71,183.59 559.91,183.65 560.11,183.86 560.31,183.72 560.51,184.03 560.71,183.69 560.91,183.57 561.11,183.48 561.31,184.03 561.51,183.04 561.72,184.19 561.92,183.64 562.12,184.09 562.32,183.24 562.52,183.57 562.72,183.47 562.92,184.24 563.12,183.34 563.32,183.89 563.52,183.78 563.72,183.92 563.92,183.76 564.12,183.90 564.33,183.59 564.53,183.65 564.73,183.50 564.93,184.23 565.13,183.74 565.33,183.93 565.53,183.84 565.73,183.53 565.93,183.87 566.13,183.90 566.33,183.88 566.53,183.84 566.73,183.89 566.93,183.91 567.13,183.84 567.34,183.71 567.54,183.93 567.74,184.10 567.94,183.89 568.14,184.15 568.34,183.87 568.54,184.06 568.74,183.96 568.94,184.26 569.14,183.91 569.34,183.48 569.54,184.00 569.74,183.80 569.94,183.85 570.15,183.51 570.35,183.87 570.55,184.28 570.75,183.86 570.95,183.40 571.15,183.94 571.35,184.31 571.55,184.07 571.75,184.16 571.95,184.10 572.15,183.95 572.35,184.11 572.55,184.00 572.75,184.00 572.96,183.88 573.16,184.14 573.36,184.33 573.56,184.13 573.76,184.14 573.96,184.16 574.16,183.42 574.36,183.70 574.56,184.18 574.76,184.20 574.96,184.38 575.16,184.19 575.36,184.29 575.57,184.18 575.77,184.08 575.97,184.12 576.17,184.41 576.37,184.33 576.57,184.41 576.77,184.20 576.97,183.91 577.17,183.63 577.37,184.41 577.57,183.69 577.77,184.05 577.97,184.36 578.17,183.88 578.38,184.36 578.58,183.92 578.78,184.37 578.98,184.35 579.18,183.98 579.38,184.03 579.58,184.07 579.78,184.26 579.98,184.49 580.18,184.24 580.38,184.13 580.58,184.10 580.78,183.82 580.98,184.34 581.18,184.21 581.39,184.50 581.59,184.23 581.79,184.54 581.99,184.16 582.19,184.23 582.39,183.84 582.59,184.44 582.79,183.32 582.99,183.84 583.19,184.04 583.39,184.49 583.59,184.33 583.79,184.04 584.00,184.55 584.20,184.49 584.40,183.35 584.60,183.96 584.80,184.41 585.00,184.53 585.20,184.44 585.40,184.54 585.60,183.75 585.80,183.04 586.00,184.20 586.20,183.55 586.40,184.40 586.60,184.58 586.80,184.19 587.01,184.34 587.21,184.16 587.41,183.85 587.61,183.74 587.81,184.45 588.01,184.59 588.21,184.14 588.41,183.79 588.61,184.55 588.81,184.02 589.01,184.51 589.21,184.42 589.41,184.09 589.62,184.30 589.82,184.16 590.02,183.78 590.22,183.97 590.42,184.37 590.62,184.54 590.82,183.68 591.02,183.94 591.22,183.15 591.42,184.69 591.62,183.73 591.82,184.18 592.02,183.54 592.22,184.30 592.42,184.42 592.63,184.32 592.83,184.45 593.03,183.96 593.23,184.63 593.43,184.52 593.63,183.91 593.83,184.25 594.03,183.27 594.23,184.56 594.43,184.61 594.63,184.31 594.83,184.15 595.03,184.53 595.24,184.14 595.44,183.49 595.64,184.43 595.84,184.20 596.04,184.67 596.24,184.30 596.44,183.74 596.64,184.51 596.84,184.64 597.04,183.76 597.24,184.09 597.44,184.27 597.64,184.45 597.84,184.45 598.04,184.38 598.25,184.56 598.45,184.47 598.65,183.30 598.85,184.63 599.05,184.53 599.25,184.42 599.45,184.50 599.65,184.53 599.85,183.49 600.05,184.38 600.25,183.80 600.45,184.00 600.65,184.52 600.86,184.31 601.06,184.06 601.26,183.89 601.46,184.24 601.66,183.70 601.86,184.15 602.06,184.54 602.26,184.13 602.46,184.27 602.66,184.60 602.86,184.12 603.06,184.02 603.26,184.18 603.46,184.15 603.66,184.60 603.87,183.16 604.07,183.80 604.27,184.47 604.47,182.82 604.67,184.19 604.87,184.41 605.07,183.51 605.27,184.06 605.47,184.01 605.67,184.26 605.87,184.35 606.07,184.45 606.27,183.66 606.48,183.96 606.68,184.44 606.88,184.52 607.08,184.06 607.28,183.52 607.48,183.77 607.68,184.46 607.88,183.75 608.08,183.91 608.28,183.87 608.48,184.15 608.68,184.35 608.88,183.76 609.08,184.21 609.28,184.54 609.49,184.22 609.69,184.22 609.89,184.41 610.09,184.27 610.29,184.17 610.49,184.48 610.69,183.76 610.89,183.88 611.09,184.57 611.29,183.97 611.49,183.58 611.69,183.81 611.89,184.54 612.10,183.84 612.30,184.24 612.50,184.39 612.70,183.29 612.90,183.99 613.10,184.39 613.30,183.98 613.50,184.07 613.70,184.26 613.90,184.43 614.10,184.02 614.30,183.80 614.50,183.30 614.70,183.97 614.90,184.34 615.11,184.50 615.31,184.20 615.51,183.76 615.71,184.30 615.91,183.63 616.11,183.72 616.31,183.74 616.51,184.50 616.71,184.29 616.91,183.02 617.11,184.50 617.31,184.09 617.51,183.79 617.71,184.33 617.92,184.20 618.12,184.29 618.32,184.14 618.52,183.88 618.72,182.93 618.92,184.31 619.12,184.17 619.32,184.12 619.52,184.28 619.72,184.18 619.92,184.47 620.12,184.35 620.32,184.47 620.52,183.89 620.73,184.27 620.93,184.46 621.13,184.37 621.33,184.07 621.53,184.35 621.73,184.24 621.93,183.97 622.13,184.35 622.33,183.62 622.53,183.61 622.73,183.83 622.93,183.74 623.13,184.42 623.34,183.88 623.54,184.48 623.74,183.40 623.94,183.53 624.14,184.09 624.34,184.25 624.54,184.26 624.74,183.65 624.94,184.18 625.14,183.79 625.34,183.88 625.54,183.89 625.74,183.92 625.94,184.40 626.14,184.36 626.35,183.73 626.55,184.28 626.75,183.86 626.95,183.14 627.15,183.48 627.35,184.31 627.55,184.26 627.75,184.15 627.95,183.67 628.15,184.33 628.35,184.13 628.55,184.18 628.75,184.33 628.95,183.93 629.16,183.94 629.36,183.59 629.56,183.96 629.76,184.32 629.96,184.20 630.16,183.87 630.36,183.88 630.56,184.21 630.76,184.32 630.96,184.02 631.16,182.54 631.36,184.37 631.56,184.33 631.76,184.18 631.97,183.33 632.17,184.04 632.37,183.89 632.57,183.51 632.77,184.00 632.97,184.08 633.17,184.08 633.37,183.86 633.57,183.82 633.77,184.27 633.97,183.57 634.17,184.08 634.37,184.10 634.58,183.71 634.78,183.17 634.98,184.06 635.18,184.08 635.38,183.66 635.58,182.82 635.78,184.06 635.98,183.11 636.18,183.97 636.38,184.21 636.58,184.25 636.78,184.09 636.98,184.11 637.18,183.61 637.38,184.03 637.59,183.77 637.79,184.23 637.99,183.93 638.19,184.11 638.39,184.18 638.59,183.97 638.79,184.27 638.99,184.03 639.19,183.80 639.39,184.22 639.59,184.12 639.79,183.01 639.99,183.78 640.19,184.16 640.40,184.10 640.60,183.98 640.80,184.25 641.00,183.86 641.20,184.11 641.40,183.86 641.60,183.77 641.80,183.70 642.00,183.46 642.20,183.55 642.40,183.64 642.60,183.80 642.80,184.23 643.00,183.60 643.21,183.92 643.41,183.66 643.61,183.90 643.81,183.18 644.01,183.76 644.21,183.73 644.41,183.97 644.61,182.95 644.81,183.94 645.01,183.43 645.21,184.15 645.41,183.89 645.61,184.10 645.82,184.13 646.02,183.78 646.22,184.11 646.42,183.96 646.62,184.11 646.82,184.10 647.02,183.57 647.22,184.02 647.42,183.85 647.62,183.13 647.82,183.67 648.02,183.64 648.22,183.94 648.42,183.80 648.62,183.58 648.83,184.07 649.03,183.56 649.23,184.04 649.43,184.02 649.63,183.57 649.83,184.01 650.03,184.00 650.23,183.99 650.43,184.13 650.63,184.11 650.83,183.84 651.03,183.73 651.23,183.44 651.43,183.74 651.64,183.96 651.84,184.05 652.04,183.50 652.24,183.88 652.44,183.51 652.64,184.06 652.84,184.07 653.04,183.35 653.24,183.33 653.44,184.03 653.64,183.81 653.84,183.74 654.04,184.09 654.24,184.05 654.45,183.62 654.65,183.64 654.85,184.05 655.05,184.05 655.25,183.79 655.45,183.77 655.65,183.98 655.85,183.43 656.05,183.67 656.25,183.31 656.45,183.48 656.65,183.44 656.85,183.68 657.05,183.95 657.26,184.02 657.46,183.53 657.66,183.50 657.86,183.83 658.06,183.89 658.26,183.94 658.46,183.82 658.66,183.99 658.86,183.47 659.06,183.76 659.26,183.41 659.46,184.01 659.66,184.01 659.87,183.85 660.07,183.94 660.27,183.81 660.47,183.99 660.67,183.91 660.87,183.78 661.07,183.74 661.27,183.87 661.47,183.42 661.67,183.70 661.87,183.27 662.07,183.69 662.27,183.95 662.47,183.75 662.67,183.87 662.88,183.28 663.08,183.12 663.28,183.49 663.48,183.89 663.68,183.50 663.88,183.39 664.08,183.85 664.28,183.77 664.48,183.41 664.68,183.73 664.88,183.50 665.08,183.64 665.28,183.73 665.48,183.93 665.69,183.63 665.89,183.38 666.09,183.80 666.29,183.87 666.49,183.86 666.69,183.51 666.89,183.88 667.09,183.34 667.29,183.33 667.49,183.82 667.69,183.80 667.89,183.70 668.09,183.78 668.29,183.52 668.50,183.88 668.70,183.61 668.90,183.81 669.10,183.85 669.30,183.67 669.50,182.52" fill="none" stroke="#ff0000" stroke-width="0.83" stroke-linejoin="round"/>
<rect x="374.6" y="10.0" width="309.20" height="183.40" fill="none" stroke="#000" stroke-width="0.5"/>
<path d="M388.70,193.4v2.1 M444.90,193.4v2.1 M501.10,193.4v2.1 M557.30,193.4v2.1 M613.50,193.4v2.1 M669.70,193.4v2.1 M374.6,185.75h-2.1 M374.6,164.05h-2.1 M374.6,142.35h-2.1 M374.6,120.65h-2.1 M374.6,98.95h-2.1 M374.6,77.25h-2.1 M374.6,55.55h-2.1 M374.6,33.85h-2.1 M374.6,12.15h-2.1" stroke="#000" stroke-width="0.6" fill="none"/>
<text x="388.70" y="202.15" font-size="5.55" text-anchor="middle">0.0</text>
<text x="444.90" y="202.15" font-size="5.55" text-anchor="middle">0.1</text>
<text x="501.10" y="202.15" font-size="5.55" text-anchor="middle">0.2</text>
<text x="557.30" y="202.15" font-size="5.55" text-anchor="middle">0.3</text>
<text x="613.50" y="202.15" font-size="5.55" text-anchor="middle">0.4</text>
<text x="669.70" y="202.15" font-size="5.55" text-anchor="middle">0.5</text>
<text x="370.70" y="187.80" font-size="5.55" text-anchor="end">0</text>
<text x="370.70" y="166.10" font-size="5.55" text-anchor="end">10</text>
<text x="370.70" y="144.40" font-size="5.55" text-anchor="end">20</text>
<text x="370.70" y="122.70" font-size="5.55" text-anchor="end">30</text>
<text x="370.70" y="101.00" font-size="5.55" text-anchor="end">40</text>
<text x="370.70" y="79.30" font-size="5.55" text-anchor="end">50</text>
<text x="370.70" y="57.60" font-size="5.55" text-anchor="end">60</text>
<text x="370.70" y="35.90" font-size="5.55" text-anchor="end">70</text>
<text x="370.70" y="14.20" font-size="5.55" text-anchor="end">80</text>
<text x="529.20" y="6.70" font-size="6.66" text-anchor="middle">FFT of Extracted ECG Waveform Normal</text>
<text x="529.20" y="209.60" font-size="5.55" text-anchor="middle">Frequency (arbitrary units)</text>
<text transform="translate(360.4,101.7) rotate(-90)" font-size="5.55" text-anchor="middle">Amplitude</text>
<rect x="630.1" y="13" width="50.5" height="9.5" rx="1.1" fill="#fff" fill-opacity="0.8" stroke="#ccc" stroke-width="0.5"/>
<path d="M632.5,17.4h11.1" stroke="#ff0000" stroke-width="0.83"/>
<text x="648.10" y="19.55" font-size="5.55" text-anchor="start">FFT of ECG</text>
<rect x="169.3" y="248.1" width="167.9" height="167.9" fill="#000"/>
<g clip-path="url(#fbox)"><g filter="url(#fb3)"><g clip-path="url(#fclip)">
<rect x="169.3" y="248.1" width="167.9" height="167.9" fill="url(#fg)"/>
<ellipse cx="318" cy="336" rx="55" ry="75" fill="url(#fdh)"/>
<ellipse cx="262" cy="345" rx="45" ry="40" fill="url(#fdark)"/>
<ellipse cx="219" cy="249" rx="8" ry="4.5" fill="#fff" fill-opacity="0.15" filter="url(#fb1)"/>
<ellipse cx="255" cy="326" rx="2.5" ry="3" fill="#fff" fill-opacity="0.07" filter="url(#fb1)"/>
<path d="M314.3,320.4 L306.1,306.4 L296.8,293.6 L285.1,283.0 L273.4,276.0 L259.4,272.5 L245.4,273.7 L233.7,277.2 L224.4,281.9 L212.7,288.9 L201.0,297.0 L189.3,305.2" fill="none" stroke="#000" stroke-opacity="0.17" stroke-width="0.9" filter="url(#fb2)"/>
<path d="M317.8,318.0 L310.8,299.4 L301.5,285.4 L289.8,273.7 L278.1,264.4 L266.4,257.3 L257.1,251.5" fill="none" stroke="#000" stroke-opacity="0.17" stroke-width="0.9" filter="url(#fb2)"/>
<path d="M320.2,315.7 L316.6,294.7 L310.8,276.0 L306.1,259.7 L303.8,248.0" fill="none" stroke="#000" stroke-opacity="0.17" stroke-width="0.9" filter="url(#fb2)"/>
<path d="M233.7,277.2 L224.4,294.7 L220.9,308.7" fill="none" stroke="#000" stroke-opacity="0.17" stroke-width="0.9" filter="url(#fb2)"/>
<path d="M208.0,278.4 L194.0,266.7" fill="none" stroke="#000" stroke-opacity="0.17" stroke-width="0.9" filter="url(#fb2)"/>
<path d="M317.8,347.4 C313,357 309,365 301.6,377.5 S290,394 281,412" fill="none" stroke="#000" stroke-opacity="0.17" stroke-width="0.9" filter="url(#fb2)"/>
<path d="M316.5,349 C312,359 308,367 300.5,379 S289,395 279,413" fill="none" stroke="#000" stroke-opacity="0.17" stroke-width="0.9" filter="url(#fb2)"/>
<path d="M320,349 C318,370 312,392 303,416" fill="none" stroke="#000" stroke-opacity="0.17" stroke-width="0.9" filter="url(#fb2)"/>
<g filter="url(#fb1)"><ellipse cx="313.2" cy="335" rx="6.1" ry="12.8" fill="#f6f6f6"/><ellipse cx="321" cy="334" rx="4.5" ry="10.5" fill="#b8b8b8" fill-opacity="0.5"/></g>
<path d="M318.5,322 C317,330 319,340 317,348" fill="none" stroke="#555" stroke-opacity="0.6" stroke-width="1" filter="url(#fb2)"/>
</g></g>
<text transform="translate(170,414.9) scale(1,1.42)" font-size="4.6" fill="#e0e0e0" filter="url(#fb2)">OD</text>
</g>
<g clip-path="url(#gbox)"><g filter="url(#hot)">
<rect x="370.95" y="248.1" width="167.9" height="167.9" fill="#6b6b6b"/>
<path d="M454.9,330.0L579.9,329.8L579.7,336.8z" fill="#454545"/>
<path d="M454.9,330.0L579.7,336.3L579.2,343.3z" fill="#484848"/>
<path d="M454.9,330.0L579.2,342.8L578.3,349.8z" fill="#4b4b4b"/>
<path d="M454.9,330.0L578.4,349.3L577.1,356.2z" fill="#4e4e4e"/>
<path d="M454.9,330.0L577.2,355.8L575.6,362.6z" fill="#505050"/>
<path d="M454.9,330.0L575.7,362.1L573.7,368.8z" fill="#535353"/>
<path d="M454.9,330.0L573.8,368.4L571.5,375.0z" fill="#565656"/>
<path d="M454.9,330.0L571.7,374.6L569.0,381.0z" fill="#595959"/>
<path d="M454.9,330.0L569.2,380.6L566.2,386.9z" fill="#5b5b5b"/>
<path d="M454.9,330.0L566.4,386.6L563.0,392.7z" fill="#5d5d5d"/>
<path d="M454.9,330.0L563.3,392.3L559.6,398.3z" fill="#5f5f5f"/>
<path d="M454.9,330.0L559.9,397.9L555.9,403.6z" fill="#616161"/>
<path d="M454.9,330.0L556.2,403.3L551.9,408.8z" fill="#636363"/>
<path d="M454.9,330.0L552.2,408.5L547.6,413.8z" fill="#656565"/>
<path d="M454.9,330.0L547.9,413.5L543.1,418.5z" fill="#686868"/>
<path d="M454.9,330.0L543.4,418.2L538.4,423.0z" fill="#6a6a6a"/>
<path d="M454.9,330.0L538.7,422.7L533.4,427.3z" fill="#6c6c6c"/>
<path d="M454.9,330.0L533.7,427.0L528.2,431.3z" fill="#6e6e6e"/>
<path d="M454.9,330.0L528.5,431.0L522.8,435.0z" fill="#717171"/>
<path d="M454.9,330.0L523.2,434.7L517.2,438.4z" fill="#737373"/>
<path d="M454.9,330.0L517.6,438.1L511.5,441.5z" fill="#767676"/>
<path d="M454.9,330.0L511.8,441.3L505.5,444.3z" fill="#797979"/>
<path d="M454.9,330.0L505.9,444.1L499.5,446.8z" fill="#7b7b7b"/>
<path d="M454.9,330.0L499.9,446.6L493.3,448.9z" fill="#7e7e7e"/>
<path d="M454.9,330.0L493.7,448.8L487.0,450.8z" fill="#828282"/>
<path d="M454.9,330.0L487.5,450.7L480.7,452.3z" fill="#858585"/>
<path d="M454.9,330.0L481.1,452.2L474.2,453.5z" fill="#8c8c8c"/>
<path d="M454.9,330.0L474.7,453.4L467.7,454.3z" fill="#949494"/>
<path d="M454.9,330.0L468.2,454.3L461.2,454.8z" fill="#989898"/>
<path d="M454.9,330.0L461.7,454.8L454.7,455.0z" fill="#9b9b9b"/>
<path d="M454.9,330.0L455.1,455.0L448.1,454.8z" fill="#9e9e9e"/>
<path d="M454.9,330.0L448.6,454.8L441.6,454.3z" fill="#9b9b9b"/>
<path d="M454.9,330.0L442.1,454.3L435.1,453.4z" fill="#989898"/>
<path d="M454.9,330.0L435.6,453.5L428.7,452.2z" fill="#949494"/>
<path d="M454.9,330.0L429.1,452.3L422.3,450.7z" fill="#8c8c8c"/>
<path d="M454.9,330.0L422.8,450.8L416.1,448.8z" fill="#858585"/>
<path d="M454.9,330.0L416.5,448.9L409.9,446.6z" fill="#828282"/>
<path d="M454.9,330.0L410.3,446.8L403.9,444.1z" fill="#7e7e7e"/>
<path d="M454.9,330.0L404.3,444.3L398.0,441.3z" fill="#7b7b7b"/>
<path d="M454.9,330.0L398.3,441.5L392.2,438.1z" fill="#797979"/>
<path d="M454.9,330.0L392.6,438.4L386.6,434.7z" fill="#767676"/>
<path d="M454.9,330.0L387.0,435.0L381.3,431.0z" fill="#737373"/>
<path d="M454.9,330.0L381.6,431.3L376.1,427.0z" fill="#717171"/>
<path d="M454.9,330.0L376.4,427.3L371.1,422.7z" fill="#6e6e6e"/>
<path d="M454.9,330.0L371.4,423.0L366.4,418.2z" fill="#6c6c6c"/>
<path d="M454.9,330.0L366.7,418.5L361.9,413.5z" fill="#6a6a6a"/>
<path d="M454.9,330.0L362.2,413.8L357.6,408.5z" fill="#686868"/>
<path d="M454.9,330.0L357.9,408.8L353.6,403.3z" fill="#656565"/>
<path d="M454.9,330.0L353.9,403.6L349.9,397.9z" fill="#636363"/>
<path d="M454.9,330.0L350.2,398.3L346.5,392.3z" fill="#616161"/>
<path d="M454.9,330.0L346.8,392.7L343.4,386.6z" fill="#5f5f5f"/>
<path d="M454.9,330.0L343.6,386.9L340.6,380.6z" fill="#5d5d5d"/>
<path d="M454.9,330.0L340.8,381.0L338.1,374.6z" fill="#5b5b5b"/>
<path d="M454.9,330.0L338.3,375.0L336.0,368.4z" fill="#595959"/>
<path d="M454.9,330.0L336.1,368.8L334.1,362.1z" fill="#565656"/>
<path d="M454.9,330.0L334.2,362.6L332.6,355.8z" fill="#535353"/>
<path d="M454.9,330.0L332.7,356.2L331.4,349.3z" fill="#505050"/>
<path d="M454.9,330.0L331.5,349.8L330.6,342.8z" fill="#4e4e4e"/>
<path d="M454.9,330.0L330.6,343.3L330.1,336.3z" fill="#4b4b4b"/>
<path d="M454.9,330.0L330.1,336.8L329.9,329.8z" fill="#484848"/>
<path d="M454.9,330.0L329.9,330.1L329.9,327.9z" fill="#686868"/>
<path d="M454.9,330.0L329.9,328.1L330.0,326.0z" fill="#474747"/>
<path d="M454.9,330.0L330.0,326.2L330.0,324.0z" fill="#656565"/>
<path d="M454.9,330.0L330.0,324.2L330.2,322.0z" fill="#424242"/>
<path d="M454.9,330.0L330.1,322.2L330.3,320.0z" fill="#666666"/>
<path d="M454.9,330.0L330.3,320.2L330.5,318.0z" fill="#474747"/>
<path d="M454.9,330.0L330.5,318.2L330.7,316.0z" fill="#676767"/>
<path d="M454.9,330.0L330.7,316.2L330.9,313.9z" fill="#484848"/>
<path d="M454.9,330.0L330.9,314.2L331.2,311.9z" fill="#696969"/>
<path d="M454.9,330.0L331.2,312.1L331.5,309.9z" fill="#4a4a4a"/>
<path d="M454.9,330.0L331.5,310.1L331.9,307.9z" fill="#676767"/>
<path d="M454.9,330.0L331.8,308.1L332.3,305.8z" fill="#4f4f4f"/>
<path d="M454.9,330.0L332.2,306.0L332.7,303.8z" fill="#6e6e6e"/>
<path d="M454.9,330.0L332.6,304.0L333.1,301.7z" fill="#525252"/>
<path d="M454.9,330.0L333.1,301.9L333.6,299.7z" fill="#6e6e6e"/>
<path d="M454.9,330.0L333.6,299.9L334.2,297.6z" fill="#4f4f4f"/>
<path d="M454.9,330.0L334.1,297.9L334.7,295.6z" fill="#6d6d6d"/>
<path d="M454.9,330.0L334.7,295.8L335.3,293.5z" fill="#4d4d4d"/>
<path d="M454.9,330.0L335.3,293.8L336.0,291.5z" fill="#737373"/>
<path d="M454.9,330.0L335.9,291.7L336.7,289.4z" fill="#505050"/>
<path d="M454.9,330.0L336.6,289.7L337.4,287.4z" fill="#6f6f6f"/>
<path d="M454.9,330.0L337.3,287.6L338.1,285.4z" fill="#545454"/>
<path d="M454.9,330.0L338.1,285.6L338.9,283.3z" fill="#777777"/>
<path d="M454.9,330.0L338.9,283.5L339.8,281.2z" fill="#565656"/>
<path d="M454.9,330.0L339.7,281.4L340.7,279.2z" fill="#727272"/>
<path d="M454.9,330.0L340.6,279.4L341.6,277.1z" fill="#555555"/>
<path d="M454.9,330.0L341.6,277.3L342.6,275.0z" fill="#787878"/>
<path d="M454.9,330.0L342.6,275.2L343.7,272.9z" fill="#585858"/>
<path d="M454.9,330.0L343.6,273.1L344.8,270.8z" fill="#757575"/>
<path d="M454.9,330.0L344.7,271.0L346.0,268.7z" fill="#595959"/>
<path d="M454.9,330.0L345.8,268.9L347.2,266.6z" fill="#7b7b7b"/>
<path d="M454.9,330.0L347.1,266.8L348.4,264.5z" fill="#606060"/>
<path d="M454.9,330.0L348.3,264.7L349.7,262.4z" fill="#777777"/>
<path d="M454.9,330.0L349.6,262.6L351.1,260.3z" fill="#5b5b5b"/>
<path d="M454.9,330.0L351.0,260.5L352.6,258.2z" fill="#7a7a7a"/>
<path d="M454.9,330.0L352.4,258.4L354.1,256.1z" fill="#585858"/>
<path d="M454.9,330.0L353.9,256.3L355.6,254.0z" fill="#7b7b7b"/>
<path d="M454.9,330.0L355.5,254.2L357.3,252.0z" fill="#5d5d5d"/>
<path d="M454.9,330.0L357.1,252.1L358.9,249.9z" fill="#818181"/>
<path d="M454.9,330.0L358.8,250.1L360.7,247.8z" fill="#606060"/>
<path d="M454.9,330.0L360.6,248.0L362.5,245.8z" fill="#7c7c7c"/>
<path d="M454.9,330.0L362.4,246.0L364.4,243.8z" fill="#646464"/>
<path d="M454.9,330.0L364.2,243.9L366.4,241.8z" fill="#818181"/>
<path d="M454.9,330.0L366.2,241.9L368.4,239.8z" fill="#606060"/>
<path d="M454.9,330.0L368.2,239.9L370.5,237.8z" fill="#828282"/>
<path d="M454.9,330.0L370.3,238.0L372.7,235.8z" fill="#646464"/>
<path d="M454.9,330.0L372.5,236.0L375.0,233.9z" fill="#838383"/>
<path d="M454.9,330.0L374.9,234.0L377.4,231.9z" fill="#686868"/>
<path d="M454.9,330.0L377.3,232.0L380.0,229.9z" fill="#828282"/>
<path d="M454.9,330.0L379.8,230.1L382.6,228.0z" fill="#696969"/>
<path d="M454.9,330.0L382.5,228.1L385.4,226.1z" fill="#8c8c8c"/>
<path d="M454.9,330.0L385.2,226.2L388.3,224.2z" fill="#6e6e6e"/>
<path d="M454.9,330.0L388.1,224.3L391.3,222.4z" fill="#8f8f8f"/>
<path d="M454.9,330.0L391.1,222.5L394.5,220.6z" fill="#727272"/>
<path d="M454.9,330.0L394.3,220.7L397.7,218.8z" fill="#939393"/>
<path d="M454.9,330.0L397.5,218.9L401.1,217.2z" fill="#6f6f6f"/>
<path d="M454.9,330.0L400.9,217.2L404.7,215.5z" fill="#949494"/>
<path d="M454.9,330.0L404.5,215.6L408.5,213.9z" fill="#707070"/>
<path d="M454.9,330.0L408.3,214.0L412.8,212.3z" fill="#949494"/>
<path d="M454.9,330.0L412.6,212.4L417.5,210.7z" fill="#747474"/>
<path d="M454.9,330.0L417.3,210.8L422.8,209.2z" fill="#9c9c9c"/>
<path d="M454.9,330.0L422.6,209.3L428.6,207.8z" fill="#808080"/>
<path d="M454.9,330.0L428.3,207.9L434.9,206.6z" fill="#a2a2a2"/>
<path d="M454.9,330.0L434.7,206.6L441.6,205.7z" fill="#909090"/>
<path d="M454.9,330.0L441.3,205.7L448.3,205.2z" fill="#adadad"/>
<path d="M454.9,330.0L448.1,205.2L455.3,205.0z" fill="#929292"/>
<path d="M454.9,330.0L455.1,205.0L462.4,205.2z" fill="#b3b3b3"/>
<path d="M454.9,330.0L462.1,205.2L469.3,205.8z" fill="#8f8f8f"/>
<path d="M454.9,330.0L469.1,205.8L476.0,206.8z" fill="#afafaf"/>
<path d="M454.9,330.0L475.8,206.8L482.5,208.1z" fill="#8f8f8f"/>
<path d="M454.9,330.0L482.3,208.0L488.7,209.7z" fill="#9f9f9f"/>
<path d="M454.9,330.0L488.5,209.6L494.3,211.4z" fill="#7f7f7f"/>
<path d="M454.9,330.0L494.1,211.3L499.2,213.1z" fill="#989898"/>
<path d="M454.9,330.0L499.0,213.1L503.7,214.9z" fill="#7c7c7c"/>
<path d="M454.9,330.0L503.5,214.8L507.7,216.7z" fill="#969696"/>
<path d="M454.9,330.0L507.5,216.6L511.2,218.4z" fill="#767676"/>
<path d="M454.9,330.0L511.0,218.3L514.6,220.2z" fill="#939393"/>
<path d="M454.9,330.0L514.4,220.1L517.9,222.0z" fill="#727272"/>
<path d="M454.9,330.0L517.7,221.9L521.0,223.9z" fill="#8a8a8a"/>
<path d="M454.9,330.0L520.8,223.8L524.0,225.8z" fill="#717171"/>
<path d="M454.9,330.0L523.8,225.7L526.8,227.8z" fill="#888888"/>
<path d="M454.9,330.0L526.7,227.6L529.6,229.7z" fill="#6c6c6c"/>
<path d="M454.9,330.0L529.4,229.6L532.2,231.8z" fill="#8a8a8a"/>
<path d="M454.9,330.0L532.0,231.6L534.7,233.8z" fill="#676767"/>
<path d="M454.9,330.0L534.5,233.6L537.1,235.8z" fill="#878787"/>
<path d="M454.9,330.0L536.9,235.7L539.3,237.8z" fill="#6a6a6a"/>
<path d="M454.9,330.0L539.2,237.7L541.5,239.9z" fill="#858585"/>
<path d="M454.9,330.0L541.3,239.7L543.6,241.9z" fill="#636363"/>
<path d="M454.9,330.0L543.4,241.7L545.5,243.9z" fill="#7b7b7b"/>
<path d="M454.9,330.0L545.4,243.8L547.5,246.0z" fill="#616161"/>
<path d="M454.9,330.0L547.3,245.8L549.3,248.0z" fill="#808080"/>
<path d="M454.9,330.0L549.1,247.9L551.1,250.1z" fill="#606060"/>
<path d="M454.9,330.0L550.9,250.0L552.8,252.2z" fill="#7d7d7d"/>
<path d="M454.9,330.0L552.6,252.1L554.4,254.3z" fill="#616161"/>
<path d="M454.9,330.0L554.3,254.2L556.0,256.4z" fill="#7c7c7c"/>
<path d="M454.9,330.0L555.8,256.3L557.5,258.6z" fill="#5e5e5e"/>
<path d="M454.9,330.0L557.4,258.4L558.9,260.7z" fill="#7e7e7e"/>
<path d="M454.9,330.0L558.8,260.5L560.3,262.8z" fill="#5b5b5b"/>
<path d="M454.9,330.0L560.2,262.6L561.6,265.0z" fill="#7a7a7a"/>
<path d="M454.9,330.0L561.5,264.8L562.9,267.1z" fill="#616161"/>
<path d="M454.9,330.0L562.8,266.9L564.1,269.2z" fill="#7c7c7c"/>
<path d="M454.9,330.0L564.0,269.0L565.3,271.3z" fill="#575757"/>
<path d="M454.9,330.0L565.2,271.1L566.4,273.5z" fill="#787878"/>
<path d="M454.9,330.0L566.3,273.3L567.4,275.6z" fill="#5a5a5a"/>
<path d="M454.9,330.0L567.3,275.4L568.4,277.7z" fill="#7a7a7a"/>
<path d="M454.9,330.0L568.3,277.5L569.4,279.8z" fill="#585858"/>
<path d="M454.9,330.0L569.3,279.6L570.3,281.9z" fill="#747474"/>
<path d="M454.9,330.0L570.2,281.7L571.1,284.0z" fill="#545454"/>
<path d="M454.9,330.0L571.0,283.8L571.9,286.1z" fill="#757575"/>
<path d="M454.9,330.0L571.8,285.8L572.7,288.1z" fill="#555555"/>
<path d="M454.9,330.0L572.6,287.9L573.4,290.2z" fill="#717171"/>
<path d="M454.9,330.0L573.3,290.0L574.1,292.2z" fill="#535353"/>
<path d="M454.9,330.0L574.0,292.0L574.7,294.3z" fill="#707070"/>
<path d="M454.9,330.0L574.6,294.1L575.3,296.4z" fill="#535353"/>
<path d="M454.9,330.0L575.2,296.1L575.8,298.4z" fill="#6e6e6e"/>
<path d="M454.9,330.0L575.8,298.2L576.4,300.5z" fill="#515151"/>
<path d="M454.9,330.0L576.3,300.3L576.8,302.5z" fill="#707070"/>
<path d="M454.9,330.0L576.8,302.3L577.3,304.6z" fill="#505050"/>
<path d="M454.9,330.0L577.2,304.4L577.7,306.6z" fill="#6a6a6a"/>
<path d="M454.9,330.0L577.7,306.4L578.1,308.7z" fill="#515151"/>
<path d="M454.9,330.0L578.0,308.5L578.4,310.7z" fill="#696969"/>
<path d="M454.9,330.0L578.4,310.5L578.7,312.8z" fill="#4d4d4d"/>
<path d="M454.9,330.0L578.7,312.6L579.0,314.8z" fill="#686868"/>
<path d="M454.9,330.0L578.9,314.6L579.2,316.8z" fill="#464646"/>
<path d="M454.9,330.0L579.2,316.6L579.4,318.9z" fill="#696969"/>
<path d="M454.9,330.0L579.4,318.6L579.6,320.9z" fill="#4a4a4a"/>
<path d="M454.9,330.0L579.5,320.6L579.7,322.9z" fill="#666666"/>
<path d="M454.9,330.0L579.7,322.7L579.8,324.9z" fill="#484848"/>
<path d="M454.9,330.0L579.8,324.6L579.9,326.9z" fill="#646464"/>
<path d="M454.9,330.0L579.9,326.6L579.9,328.8z" fill="#444444"/>
<path d="M454.9,330.0L579.9,328.6L579.9,330.8z" fill="#636363"/>
<path d="M444.4,330.3 445.7,331.0 446.6,331.7 447.3,332.4 447.8,333.1 448.2,333.8 448.5,334.5 448.8,335.2 449.1,335.9 449.1,336.0 449.7,338.0 450.1,340.0 450.4,342.0 450.6,344.0 450.8,346.0 451.0,348.0 451.2,350.0 451.5,356.0 451.8,362.0 452.0,368.0 452.2,374.0 452.3,380.0 452.4,386.0 452.5,392.0 452.6,398.0 452.7,404.0 452.8,410.0 452.8,416.0M465.4,330.3 464.1,331.0 463.2,331.7 462.5,332.4 462.0,333.1 461.6,333.8 461.3,334.5 461.0,335.2 460.7,335.9 460.7,336.0 460.1,338.0 459.7,340.0 459.4,342.0 459.2,344.0 459.0,346.0 458.8,348.0 458.6,350.0 458.3,356.0 458.0,362.0 457.8,368.0 457.6,374.0 457.5,380.0 457.4,386.0 457.3,392.0 457.2,398.0 457.1,404.0 457.0,410.0 457.0,416.0M423.3,330.3 427.3,331.0 430.1,331.7 432.0,332.4 433.6,333.1 434.8,333.8 435.8,334.5 436.7,335.2 437.4,335.9 437.5,336.0 439.2,338.0 440.4,340.0 441.3,342.0 442.1,344.0 442.7,346.0 443.3,348.0 443.7,350.0 444.8,356.0 445.6,362.0 446.3,368.0 446.8,374.0 447.2,380.0 447.5,386.0 447.8,392.0 448.1,398.0 448.3,404.0 448.5,410.0 448.7,416.0M486.5,330.3 482.5,331.0 479.7,331.7 477.8,332.4 476.2,333.1 475.0,333.8 474.0,334.5 473.1,335.2 472.4,335.9 472.3,336.0 470.6,338.0 469.4,340.0 468.5,342.0 467.7,344.0 467.1,346.0 466.5,348.0 466.1,350.0 465.0,356.0 464.2,362.0 463.5,368.0 463.0,374.0 462.6,380.0 462.3,386.0 462.0,392.0 461.7,398.0 461.5,404.0 461.3,410.0 461.1,416.0M402.2,330.3 409.0,331.0 413.5,331.7 416.8,332.4 419.3,333.1 421.4,333.8 423.1,334.5 424.5,335.2 425.8,335.9 425.9,336.0 428.7,338.0 430.7,340.0 432.3,342.0 433.6,344.0 434.6,346.0 435.5,348.0 436.3,350.0 438.1,356.0 439.5,362.0 440.5,368.0 441.3,374.0 442.0,380.0 442.6,386.0 443.1,392.0 443.5,398.0 443.9,404.0 444.3,410.0 444.6,416.0M507.6,330.3 500.8,331.0 496.3,331.7 493.0,332.4 490.5,333.1 488.4,333.8 486.7,334.5 485.3,335.2 484.0,335.9 483.9,336.0 481.1,338.0 479.1,340.0 477.5,342.0 476.2,344.0 475.2,346.0 474.3,348.0 473.5,350.0 471.7,356.0 470.3,362.0 469.3,368.0 468.5,374.0 467.8,380.0 467.2,386.0 466.7,392.0 466.3,398.0 465.9,404.0 465.5,410.0 465.2,416.0M381.1,330.3 390.6,331.0 396.9,331.7 401.5,332.4 405.1,333.1 408.0,333.8 410.4,334.5 412.4,335.2 414.1,335.9 414.4,336.0 418.2,338.0 421.0,340.0 423.2,342.0 425.0,344.0 426.5,346.0 427.8,348.0 428.9,350.0 431.4,356.0 433.3,362.0 434.7,368.0 435.9,374.0 436.9,380.0 437.7,386.0 438.4,392.0 439.0,398.0 439.5,404.0 440.0,410.0 440.5,416.0M528.7,330.3 519.2,331.0 512.9,331.7 508.3,332.4 504.7,333.1 501.8,333.8 499.4,334.5 497.4,335.2 495.7,335.9 495.4,336.0 491.6,338.0 488.8,340.0 486.6,342.0 484.8,344.0 483.3,346.0 482.0,348.0 480.9,350.0 478.4,356.0 476.5,362.0 475.1,368.0 473.9,374.0 472.9,380.0 472.1,386.0 471.4,392.0 470.8,398.0 470.3,404.0 469.8,410.0 469.3,416.0M360.0,330.3 372.2,331.0 380.4,331.7 386.3,332.4 390.9,333.1 394.6,333.8 397.7,334.5 400.2,335.2 402.5,335.9 402.8,336.0 407.7,338.0 411.3,340.0 414.2,342.0 416.5,344.0 418.4,346.0 420.0,348.0 421.4,350.0 424.7,356.0 427.1,362.0 429.0,368.0 430.5,374.0 431.7,380.0 432.7,386.0 433.6,392.0 434.4,398.0 435.1,404.0 435.8,410.0 436.3,416.0M549.8,330.3 537.6,331.0 529.4,331.7 523.5,332.4 518.9,333.1 515.2,333.8 512.1,334.5 509.6,335.2 507.3,335.9 507.0,336.0 502.1,338.0 498.5,340.0 495.6,342.0 493.3,344.0 491.4,346.0 489.8,348.0 488.4,350.0 485.1,356.0 482.7,362.0 480.8,368.0 479.3,374.0 478.1,380.0 477.1,386.0 476.2,392.0 475.4,398.0 474.7,404.0 474.0,410.0 473.5,416.0M363.8,331.7 371.1,332.4 376.7,333.1 381.2,333.8 384.9,334.5 388.1,335.2 390.8,335.9 391.2,336.0 397.2,338.0 401.7,340.0 405.1,342.0 407.9,344.0 410.3,346.0 412.3,348.0 414.0,350.0 418.0,356.0 420.9,362.0 423.2,368.0 425.0,374.0 426.5,380.0 427.8,386.0 428.9,392.0 429.9,398.0 430.7,404.0 431.5,410.0 432.2,416.0M546.0,331.7 538.7,332.4 533.1,333.1 528.6,333.8 524.9,334.5 521.7,335.2 519.0,335.9 518.6,336.0 512.6,338.0 508.1,340.0 504.7,342.0 501.9,344.0 499.5,346.0 497.5,348.0 495.8,350.0 491.8,356.0 488.9,362.0 486.6,368.0 484.8,374.0 483.3,380.0 482.0,386.0 480.9,392.0 479.9,398.0 479.1,404.0 478.3,410.0 477.6,416.0M355.8,332.4 362.4,333.1 367.8,333.8 372.2,334.5 376.0,335.2 379.2,335.9 379.6,336.0 386.7,338.0 392.0,340.0 396.1,342.0 399.4,344.0 402.2,346.0 404.5,348.0 406.5,350.0 411.3,356.0 414.7,362.0 417.4,368.0 419.6,374.0 421.4,380.0 422.9,386.0 424.2,392.0 425.3,398.0 426.4,404.0 427.3,410.0 428.1,416.0M554.0,332.4 547.4,333.1 542.0,333.8 537.6,334.5 533.8,335.2 530.6,335.9 530.2,336.0 523.1,338.0 517.8,340.0 513.7,342.0 510.4,344.0 507.6,346.0 505.3,348.0 503.3,350.0 498.5,356.0 495.1,362.0 492.4,368.0 490.2,374.0 488.4,380.0 486.9,386.0 485.6,392.0 484.5,398.0 483.4,404.0 482.5,410.0 481.7,416.0M359.5,334.5 363.8,335.2 367.5,335.9 368.0,336.0 376.2,338.0 382.3,340.0 387.0,342.0 390.9,344.0 394.0,346.0 396.7,348.0 399.1,350.0 404.6,356.0 408.6,362.0 411.7,368.0 414.2,374.0 416.2,380.0 418.0,386.0 419.5,392.0 420.8,398.0 422.0,404.0 423.0,410.0 423.9,416.0M550.3,334.5 546.0,335.2 542.3,335.9 541.8,336.0 533.6,338.0 527.5,340.0 522.8,342.0 518.9,344.0 515.8,346.0 513.1,348.0 510.7,350.0 505.2,356.0 501.2,362.0 498.1,368.0 495.6,374.0 493.6,380.0 491.8,386.0 490.3,392.0 489.0,398.0 487.8,404.0 486.8,410.0 485.9,416.0M355.9,335.9 356.4,336.0 365.7,338.0 372.6,340.0 378.0,342.0 382.3,344.0 385.9,346.0 389.0,348.0 391.6,350.0 397.8,356.0 402.4,362.0 405.9,368.0 408.7,374.0 411.1,380.0 413.0,386.0 414.8,392.0 416.3,398.0 417.6,404.0 418.8,410.0 419.8,416.0M553.9,335.9 553.4,336.0 544.1,338.0 537.2,340.0 531.8,342.0 527.5,344.0 523.9,346.0 520.8,348.0 518.2,350.0 512.0,356.0 507.4,362.0 503.9,368.0 501.1,374.0 498.7,380.0 496.8,386.0 495.0,392.0 493.5,398.0 492.2,404.0 491.0,410.0 490.0,416.0M355.3,338.0 362.9,340.0 368.9,342.0 373.8,344.0 377.8,346.0 381.2,348.0 384.2,350.0 391.1,356.0 396.2,362.0 400.1,368.0 403.3,374.0 405.9,380.0 408.1,386.0 410.0,392.0 411.7,398.0 413.2,404.0 414.5,410.0 415.7,416.0M554.5,338.0 546.9,340.0 540.9,342.0 536.0,344.0 532.0,346.0 528.6,348.0 525.6,350.0 518.7,356.0 513.6,362.0 509.7,368.0 506.5,374.0 503.9,380.0 501.7,386.0 499.8,392.0 498.1,398.0 496.6,404.0 495.3,410.0 494.1,416.0M359.9,342.0 365.2,344.0 369.7,346.0 373.5,348.0 376.8,350.0 384.4,356.0 390.0,362.0 394.4,368.0 397.9,374.0 400.8,380.0 403.2,386.0 405.3,392.0 407.2,398.0 408.8,404.0 410.2,410.0 411.6,416.0M549.9,342.0 544.6,344.0 540.1,346.0 536.3,348.0 533.0,350.0 525.4,356.0 519.8,362.0 515.4,368.0 511.9,374.0 509.0,380.0 506.6,386.0 504.5,392.0 502.6,398.0 501.0,404.0 499.6,410.0 498.2,416.0M356.7,344.0 361.6,346.0 365.7,348.0 369.3,350.0 377.7,356.0 383.9,362.0 388.6,368.0 392.4,374.0 395.6,380.0 398.3,386.0 400.6,392.0 402.6,398.0 404.4,404.0 406.0,410.0 407.4,416.0M553.1,344.0 548.2,346.0 544.1,348.0 540.5,350.0 532.1,356.0 525.9,362.0 521.2,368.0 517.4,374.0 514.2,380.0 511.5,386.0 509.2,392.0 507.2,398.0 505.4,404.0 503.8,410.0 502.4,416.0M358.0,348.0 361.9,350.0 371.0,356.0 377.7,362.0 382.8,368.0 387.0,374.0 390.4,380.0 393.4,386.0 395.9,392.0 398.1,398.0 400.0,404.0 401.7,410.0 403.3,416.0M551.8,348.0 547.9,350.0 538.8,356.0 532.1,362.0 527.0,368.0 522.8,374.0 519.4,380.0 516.4,386.0 513.9,392.0 511.7,398.0 509.8,404.0 508.1,410.0 506.5,416.0M364.3,356.0 371.5,362.0 377.1,368.0 381.6,374.0 385.3,380.0 388.4,386.0 391.1,392.0 393.5,398.0 395.6,404.0 397.5,410.0 399.2,416.0M545.5,356.0 538.3,362.0 532.7,368.0 528.2,374.0 524.5,380.0 521.4,386.0 518.7,392.0 516.3,398.0 514.2,404.0 512.3,410.0 510.6,416.0M357.6,356.0 365.3,362.0 371.3,368.0 376.1,374.0 380.1,380.0 383.5,386.0 386.4,392.0 389.0,398.0 391.2,404.0 393.2,410.0 395.0,416.0M552.2,356.0 544.5,362.0 538.5,368.0 533.7,374.0 529.7,380.0 526.3,386.0 523.4,392.0 520.8,398.0 518.6,404.0 516.6,410.0 514.8,416.0M359.1,362.0 365.5,368.0 370.7,374.0 375.0,380.0 378.6,386.0 381.7,392.0 384.4,398.0 386.8,404.0 389.0,410.0 390.9,416.0M550.7,362.0 544.3,368.0 539.1,374.0 534.8,380.0 531.2,386.0 528.1,392.0 525.4,398.0 523.0,404.0 520.8,410.0 518.9,416.0M359.8,368.0 365.3,374.0 369.8,380.0 373.7,386.0 377.0,392.0 379.9,398.0 382.4,404.0 384.7,410.0 386.8,416.0M550.0,368.0 544.5,374.0 540.0,380.0 536.1,386.0 532.8,392.0 529.9,398.0 527.4,404.0 525.1,410.0 523.0,416.0M359.8,374.0 364.7,380.0 368.7,386.0 372.3,392.0 375.3,398.0 378.0,404.0 380.5,410.0 382.7,416.0M550.0,374.0 545.1,380.0 541.1,386.0 537.5,392.0 534.5,398.0 531.8,404.0 529.3,410.0 527.1,416.0M359.5,380.0 363.8,386.0 367.5,392.0 370.8,398.0 373.7,404.0 376.2,410.0 378.5,416.0M550.3,380.0 546.0,386.0 542.3,392.0 539.0,398.0 536.1,404.0 533.6,410.0 531.3,416.0M358.9,386.0 362.8,392.0 366.2,398.0 369.3,404.0 372.0,410.0 374.4,416.0M550.9,386.0 547.0,392.0 543.6,398.0 540.5,404.0 537.8,410.0 535.4,416.0M358.1,392.0 361.7,398.0 364.9,404.0 367.7,410.0 370.3,416.0M551.7,392.0 548.1,398.0 544.9,404.0 542.1,410.0 539.5,416.0M357.1,398.0 360.5,404.0 363.5,410.0 366.2,416.0M552.7,398.0 549.3,404.0 546.3,410.0 543.6,416.0" fill="none" stroke="#000" stroke-opacity="0.14" stroke-width="1.5" filter="url(#gb2)"/>
<path d="M433.8,330.3 436.5,331.0 438.3,331.7 439.7,332.4 440.7,333.1 441.5,333.8 442.2,334.5 442.8,335.2 443.3,335.9 443.3,336.0 444.4,338.0 445.2,340.0 445.9,342.0 446.4,344.0 446.8,346.0 447.1,348.0 447.5,350.0 448.2,356.0 448.7,362.0 449.1,368.0 449.5,374.0 449.7,380.0 450.0,386.0 450.2,392.0 450.4,398.0 450.5,404.0 450.6,410.0 450.8,416.0M476.0,330.3 473.3,331.0 471.5,331.7 470.1,332.4 469.1,333.1 468.3,333.8 467.6,334.5 467.0,335.2 466.5,335.9 466.5,336.0 465.4,338.0 464.6,340.0 463.9,342.0 463.4,344.0 463.0,346.0 462.7,348.0 462.3,350.0 461.6,356.0 461.1,362.0 460.7,368.0 460.3,374.0 460.1,380.0 459.8,386.0 459.6,392.0 459.4,398.0 459.3,404.0 459.2,410.0 459.0,416.0M412.7,330.3 418.1,331.0 421.8,331.7 424.4,332.4 426.5,333.1 428.1,333.8 429.5,334.5 430.6,335.2 431.6,335.9 431.7,336.0 433.9,338.0 435.5,340.0 436.8,342.0 437.8,344.0 438.7,346.0 439.4,348.0 440.0,350.0 441.5,356.0 442.5,362.0 443.4,368.0 444.0,374.0 444.6,380.0 445.1,386.0 445.5,392.0 445.8,398.0 446.1,404.0 446.4,410.0 446.6,416.0M497.1,330.3 491.7,331.0 488.0,331.7 485.4,332.4 483.3,333.1 481.7,333.8 480.3,334.5 479.2,335.2 478.2,335.9 478.1,336.0 475.9,338.0 474.3,340.0 473.0,342.0 472.0,344.0 471.1,346.0 470.4,348.0 469.8,350.0 468.3,356.0 467.3,362.0 466.4,368.0 465.8,374.0 465.2,380.0 464.7,386.0 464.3,392.0 464.0,398.0 463.7,404.0 463.4,410.0 463.2,416.0M391.6,330.3 399.8,331.0 405.2,331.7 409.2,332.4 412.2,333.1 414.7,333.8 416.7,334.5 418.5,335.2 420.0,335.9 420.1,336.0 423.4,338.0 425.9,340.0 427.8,342.0 429.3,344.0 430.6,346.0 431.6,348.0 432.6,350.0 434.8,356.0 436.4,362.0 437.6,368.0 438.6,374.0 439.4,380.0 440.1,386.0 440.7,392.0 441.3,398.0 441.7,404.0 442.1,410.0 442.5,416.0M518.2,330.3 510.0,331.0 504.6,331.7 500.6,332.4 497.6,333.1 495.1,333.8 493.1,334.5 491.3,335.2 489.8,335.9 489.7,336.0 486.4,338.0 483.9,340.0 482.0,342.0 480.5,344.0 479.2,346.0 478.2,348.0 477.2,350.0 475.0,356.0 473.4,362.0 472.2,368.0 471.2,374.0 470.4,380.0 469.7,386.0 469.1,392.0 468.5,398.0 468.1,404.0 467.7,410.0 467.3,416.0M370.5,330.3 381.4,331.0 388.6,331.7 393.9,332.4 398.0,333.1 401.3,333.8 404.0,334.5 406.3,335.2 408.3,335.9 408.6,336.0 412.9,338.0 416.2,340.0 418.7,342.0 420.7,344.0 422.4,346.0 423.9,348.0 425.1,350.0 428.1,356.0 430.2,362.0 431.8,368.0 433.2,374.0 434.3,380.0 435.2,386.0 436.0,392.0 436.7,398.0 437.3,404.0 437.9,410.0 438.4,416.0M539.3,330.3 528.4,331.0 521.2,331.7 515.9,332.4 511.8,333.1 508.5,333.8 505.8,334.5 503.5,335.2 501.5,335.9 501.2,336.0 496.9,338.0 493.6,340.0 491.1,342.0 489.1,344.0 487.4,346.0 485.9,348.0 484.7,350.0 481.7,356.0 479.6,362.0 478.0,368.0 476.6,374.0 475.5,380.0 474.6,386.0 473.8,392.0 473.1,398.0 472.5,404.0 471.9,410.0 471.4,416.0M363.0,331.0 372.1,331.7 378.7,332.4 383.8,333.1 387.9,333.8 391.3,334.5 394.2,335.2 396.7,335.9 397.0,336.0 402.5,338.0 406.5,340.0 409.7,342.0 412.2,344.0 414.3,346.0 416.1,348.0 417.7,350.0 421.3,356.0 424.0,362.0 426.1,368.0 427.7,374.0 429.1,380.0 430.3,386.0 431.3,392.0 432.2,398.0 432.9,404.0 433.6,410.0 434.3,416.0M546.8,331.0 537.7,331.7 531.1,332.4 526.0,333.1 521.9,333.8 518.5,334.5 515.6,335.2 513.1,335.9 512.8,336.0 507.3,338.0 503.3,340.0 500.1,342.0 497.6,344.0 495.5,346.0 493.7,348.0 492.1,350.0 488.5,356.0 485.8,362.0 483.7,368.0 482.1,374.0 480.7,380.0 479.5,386.0 478.5,392.0 477.6,398.0 476.9,404.0 476.2,410.0 475.5,416.0M355.5,331.7 363.4,332.4 369.6,333.1 374.5,333.8 378.6,334.5 382.0,335.2 385.0,335.9 385.4,336.0 392.0,338.0 396.8,340.0 400.6,342.0 403.7,344.0 406.2,346.0 408.4,348.0 410.2,350.0 414.6,356.0 417.8,362.0 420.3,368.0 422.3,374.0 424.0,380.0 425.4,386.0 426.6,392.0 427.6,398.0 428.6,404.0 429.4,410.0 430.1,416.0M554.3,331.7 546.4,332.4 540.2,333.1 535.3,333.8 531.2,334.5 527.8,335.2 524.8,335.9 524.4,336.0 517.8,338.0 513.0,340.0 509.2,342.0 506.1,344.0 503.6,346.0 501.4,348.0 499.6,350.0 495.2,356.0 492.0,362.0 489.5,368.0 487.5,374.0 485.8,380.0 484.4,386.0 483.2,392.0 482.2,398.0 481.2,404.0 480.4,410.0 479.7,416.0M355.3,333.1 361.1,333.8 365.8,334.5 369.9,335.2 373.4,335.9 373.8,336.0 381.5,338.0 387.1,340.0 391.6,342.0 395.1,344.0 398.1,346.0 400.6,348.0 402.8,350.0 407.9,356.0 411.7,362.0 414.5,368.0 416.9,374.0 418.8,380.0 420.4,386.0 421.8,392.0 423.1,398.0 424.2,404.0 425.1,410.0 426.0,416.0M554.5,333.1 548.7,333.8 544.0,334.5 539.9,335.2 536.4,335.9 536.0,336.0 528.3,338.0 522.7,340.0 518.2,342.0 514.7,344.0 511.7,346.0 509.2,348.0 507.0,350.0 501.9,356.0 498.1,362.0 495.3,368.0 492.9,374.0 491.0,380.0 489.4,386.0 488.0,392.0 486.7,398.0 485.6,404.0 484.7,410.0 483.8,416.0M357.7,335.2 361.7,335.9 362.2,336.0 371.0,338.0 377.5,340.0 382.5,342.0 386.6,344.0 390.0,346.0 392.9,348.0 395.4,350.0 401.2,356.0 405.5,362.0 408.8,368.0 411.4,374.0 413.6,380.0 415.5,386.0 417.1,392.0 418.5,398.0 419.8,404.0 420.9,410.0 421.9,416.0M552.1,335.2 548.1,335.9 547.6,336.0 538.8,338.0 532.3,340.0 527.3,342.0 523.2,344.0 519.8,346.0 516.9,348.0 514.4,350.0 508.6,356.0 504.3,362.0 501.0,368.0 498.4,374.0 496.2,380.0 494.3,386.0 492.7,392.0 491.3,398.0 490.0,404.0 488.9,410.0 487.9,416.0M360.5,338.0 367.8,340.0 373.5,342.0 378.0,344.0 381.9,346.0 385.1,348.0 387.9,350.0 394.5,356.0 399.3,362.0 403.0,368.0 406.0,374.0 408.5,380.0 410.6,386.0 412.4,392.0 414.0,398.0 415.4,404.0 416.6,410.0 417.7,416.0M549.3,338.0 542.0,340.0 536.3,342.0 531.8,344.0 527.9,346.0 524.7,348.0 521.9,350.0 515.3,356.0 510.5,362.0 506.8,368.0 503.8,374.0 501.3,380.0 499.2,386.0 497.4,392.0 495.8,398.0 494.4,404.0 493.2,410.0 492.1,416.0M358.1,340.0 364.4,342.0 369.5,344.0 373.8,346.0 377.4,348.0 380.5,350.0 387.8,356.0 393.1,362.0 397.3,368.0 400.6,374.0 403.3,380.0 405.7,386.0 407.7,392.0 409.4,398.0 411.0,404.0 412.4,410.0 413.6,416.0M551.7,340.0 545.4,342.0 540.3,344.0 536.0,346.0 532.4,348.0 529.3,350.0 522.0,356.0 516.7,362.0 512.5,368.0 509.2,374.0 506.5,380.0 504.1,386.0 502.1,392.0 500.4,398.0 498.8,404.0 497.4,410.0 496.2,416.0M355.4,342.0 361.0,344.0 365.6,346.0 369.6,348.0 373.0,350.0 381.1,356.0 386.9,362.0 391.5,368.0 395.1,374.0 398.2,380.0 400.7,386.0 402.9,392.0 404.9,398.0 406.6,404.0 408.1,410.0 409.5,416.0M554.4,342.0 548.8,344.0 544.2,346.0 540.2,348.0 536.8,350.0 528.7,356.0 522.9,362.0 518.3,368.0 514.7,374.0 511.6,380.0 509.1,386.0 506.9,392.0 504.9,398.0 503.2,404.0 501.7,410.0 500.3,416.0M357.5,346.0 361.8,348.0 365.6,350.0 374.4,356.0 380.8,362.0 385.7,368.0 389.7,374.0 393.0,380.0 395.8,386.0 398.2,392.0 400.3,398.0 402.2,404.0 403.9,410.0 405.4,416.0M552.3,346.0 548.0,348.0 544.2,350.0 535.4,356.0 529.0,362.0 524.1,368.0 520.1,374.0 516.8,380.0 514.0,386.0 511.6,392.0 509.5,398.0 507.6,404.0 505.9,410.0 504.4,416.0M358.1,350.0 367.6,356.0 374.6,362.0 380.0,368.0 384.3,374.0 387.9,380.0 390.9,386.0 393.5,392.0 395.8,398.0 397.8,404.0 399.6,410.0 401.2,416.0M551.7,350.0 542.2,356.0 535.2,362.0 529.8,368.0 525.5,374.0 521.9,380.0 518.9,386.0 516.3,392.0 514.0,398.0 512.0,404.0 510.2,410.0 508.6,416.0M360.9,356.0 368.4,362.0 374.2,368.0 378.8,374.0 382.7,380.0 386.0,386.0 388.8,392.0 391.2,398.0 393.4,404.0 395.4,410.0 397.1,416.0M548.9,356.0 541.4,362.0 535.6,368.0 531.0,374.0 527.1,380.0 523.8,386.0 521.0,392.0 518.6,398.0 516.4,404.0 514.4,410.0 512.7,416.0M362.2,362.0 368.4,368.0 373.4,374.0 377.5,380.0 381.0,386.0 384.1,392.0 386.7,398.0 389.0,404.0 391.1,410.0 393.0,416.0M547.6,362.0 541.4,368.0 536.4,374.0 532.3,380.0 528.8,386.0 525.7,392.0 523.1,398.0 520.8,404.0 518.7,410.0 516.8,416.0M356.1,362.0 362.7,368.0 368.0,374.0 372.4,380.0 376.1,386.0 379.3,392.0 382.1,398.0 384.6,404.0 386.9,410.0 388.9,416.0M553.7,362.0 547.1,368.0 541.8,374.0 537.4,380.0 533.7,386.0 530.5,392.0 527.7,398.0 525.2,404.0 522.9,410.0 520.9,416.0M356.9,368.0 362.5,374.0 367.2,380.0 371.2,386.0 374.6,392.0 377.6,398.0 380.2,404.0 382.6,410.0 384.7,416.0M552.9,368.0 547.3,374.0 542.6,380.0 538.6,386.0 535.2,392.0 532.2,398.0 529.6,404.0 527.2,410.0 525.1,416.0M357.1,374.0 362.1,380.0 366.3,386.0 369.9,392.0 373.1,398.0 375.9,404.0 378.3,410.0 380.6,416.0M552.7,374.0 547.7,380.0 543.5,386.0 539.9,392.0 536.7,398.0 533.9,404.0 531.5,410.0 529.2,416.0M356.9,380.0 361.3,386.0 365.2,392.0 368.5,398.0 371.5,404.0 374.1,410.0 376.5,416.0M552.9,380.0 548.5,386.0 544.6,392.0 541.3,398.0 538.3,404.0 535.7,410.0 533.3,416.0M356.4,386.0 360.4,392.0 364.0,398.0 367.1,404.0 369.8,410.0 372.3,416.0M553.4,386.0 549.4,392.0 545.8,398.0 542.7,404.0 540.0,410.0 537.5,416.0M355.7,392.0 359.4,398.0 362.7,404.0 365.6,410.0 368.2,416.0M554.1,392.0 550.4,398.0 547.1,404.0 544.2,410.0 541.6,416.0M358.3,404.0 361.3,410.0 364.1,416.0M551.5,404.0 548.5,410.0 545.7,416.0" fill="none" stroke="#fff" stroke-opacity="0.08" stroke-width="1.5" filter="url(#gb2)"/>
<g fill="#fff" fill-opacity="0.13" filter="url(#gb2)"><ellipse cx="423.8" cy="264.9" rx="2.1" ry="1.9"/><ellipse cx="378.6" cy="251.4" rx="2.6" ry="1.6"/><ellipse cx="383.4" cy="276.8" rx="1.5" ry="2.3"/><ellipse cx="382.5" cy="252.7" rx="2.3" ry="1.3"/><ellipse cx="397.4" cy="264.6" rx="2.7" ry="1.4"/><ellipse cx="378.7" cy="274.5" rx="2.0" ry="2.0"/><ellipse cx="381.3" cy="265.8" rx="3.0" ry="2.5"/><ellipse cx="390.0" cy="278.6" rx="2.8" ry="2.4"/><ellipse cx="522.2" cy="288.2" rx="2.7" ry="2.4"/><ellipse cx="525.4" cy="299.9" rx="2.2" ry="1.9"/><ellipse cx="498.9" cy="258.5" rx="2.3" ry="1.4"/><ellipse cx="516.8" cy="275.2" rx="2.3" ry="2.1"/><ellipse cx="394.1" cy="248.2" rx="1.7" ry="1.5"/><ellipse cx="500.2" cy="256.8" rx="2.3" ry="2.5"/><ellipse cx="529.7" cy="256.4" rx="1.5" ry="1.4"/><ellipse cx="405.1" cy="267.8" rx="2.0" ry="1.7"/><ellipse cx="420.0" cy="265.6" rx="2.6" ry="1.7"/><ellipse cx="522.9" cy="248.9" rx="2.8" ry="1.6"/><ellipse cx="385.1" cy="269.9" rx="2.2" ry="1.6"/><ellipse cx="419.9" cy="256.8" rx="2.5" ry="2.4"/><ellipse cx="375.7" cy="292.6" rx="2.0" ry="1.9"/><ellipse cx="532.6" cy="269.7" rx="2.4" ry="1.8"/><ellipse cx="506.0" cy="253.3" rx="2.1" ry="2.2"/><ellipse cx="392.5" cy="278.7" rx="1.9" ry="1.6"/><ellipse cx="511.1" cy="258.6" rx="1.8" ry="1.4"/><ellipse cx="522.5" cy="277.3" rx="2.1" ry="2.3"/><ellipse cx="518.5" cy="249.2" rx="2.5" ry="2.4"/><ellipse cx="400.4" cy="262.8" rx="1.5" ry="1.4"/><ellipse cx="505.8" cy="272.2" rx="1.6" ry="1.5"/><ellipse cx="480.7" cy="253.2" rx="1.7" ry="1.5"/><ellipse cx="378.4" cy="263.2" rx="1.8" ry="1.5"/><ellipse cx="534.3" cy="295.6" rx="2.8" ry="2.1"/><ellipse cx="529.1" cy="277.2" rx="1.7" ry="2.1"/><ellipse cx="387.6" cy="288.9" rx="2.0" ry="1.9"/><ellipse cx="513.9" cy="288.5" rx="2.6" ry="1.5"/><ellipse cx="426.2" cy="255.6" rx="2.1" ry="2.2"/><ellipse cx="514.6" cy="275.3" rx="1.7" ry="2.0"/><ellipse cx="537.4" cy="293.2" rx="1.9" ry="2.4"/><ellipse cx="536.4" cy="248.4" rx="2.4" ry="1.9"/><ellipse cx="523.6" cy="275.9" rx="2.7" ry="1.6"/><ellipse cx="419.9" cy="265.8" rx="2.3" ry="1.6"/><ellipse cx="379.2" cy="287.4" rx="2.1" ry="2.4"/><ellipse cx="509.5" cy="249.2" rx="1.7" ry="1.2"/><ellipse cx="534.6" cy="282.8" rx="2.9" ry="2.4"/><ellipse cx="535.2" cy="283.3" rx="1.9" ry="2.1"/><ellipse cx="378.5" cy="292.1" rx="2.9" ry="2.0"/><ellipse cx="389.1" cy="281.7" rx="2.4" ry="2.4"/><ellipse cx="397.2" cy="268.2" rx="1.6" ry="1.2"/><ellipse cx="530.0" cy="291.2" rx="2.3" ry="1.7"/><ellipse cx="389.1" cy="294.1" rx="2.2" ry="1.9"/><ellipse cx="374.8" cy="296.3" rx="2.0" ry="1.8"/><ellipse cx="404.2" cy="261.6" rx="2.6" ry="1.5"/><ellipse cx="521.5" cy="283.2" rx="2.0" ry="1.6"/><ellipse cx="379.8" cy="287.4" rx="2.1" ry="1.6"/><ellipse cx="400.3" cy="263.9" rx="2.3" ry="2.2"/><ellipse cx="531.9" cy="264.6" rx="1.7" ry="2.4"/><ellipse cx="522.8" cy="294.6" rx="3.0" ry="1.5"/></g>
<g fill="#000" fill-opacity="0.12" filter="url(#gb2)"><ellipse cx="517.4" cy="253.6" rx="1.7" ry="2.3"/><ellipse cx="511.5" cy="280.2" rx="2.6" ry="1.5"/><ellipse cx="497.0" cy="268.7" rx="2.9" ry="2.1"/><ellipse cx="371.1" cy="249.9" rx="2.1" ry="1.4"/><ellipse cx="528.1" cy="264.6" rx="1.6" ry="2.1"/><ellipse cx="378.0" cy="300.1" rx="2.5" ry="1.8"/><ellipse cx="429.0" cy="251.5" rx="2.5" ry="1.7"/><ellipse cx="535.9" cy="253.1" rx="2.4" ry="2.0"/><ellipse cx="377.6" cy="292.9" rx="2.3" ry="2.2"/><ellipse cx="528.7" cy="268.9" rx="2.3" ry="1.3"/><ellipse cx="372.1" cy="271.6" rx="3.0" ry="2.3"/><ellipse cx="481.8" cy="258.3" rx="2.4" ry="2.0"/><ellipse cx="535.2" cy="274.3" rx="2.5" ry="1.7"/><ellipse cx="517.6" cy="269.9" rx="2.6" ry="2.5"/><ellipse cx="521.2" cy="281.6" rx="1.4" ry="2.2"/><ellipse cx="389.1" cy="295.2" rx="2.2" ry="1.3"/><ellipse cx="516.4" cy="270.9" rx="2.4" ry="1.5"/><ellipse cx="511.9" cy="282.1" rx="1.9" ry="1.7"/><ellipse cx="384.3" cy="298.4" rx="1.6" ry="1.9"/><ellipse cx="396.0" cy="281.4" rx="1.4" ry="1.8"/><ellipse cx="524.4" cy="306.6" rx="2.6" ry="2.5"/><ellipse cx="372.2" cy="274.8" rx="1.8" ry="2.1"/><ellipse cx="535.2" cy="253.7" rx="2.3" ry="2.1"/><ellipse cx="509.3" cy="252.8" rx="2.7" ry="2.0"/><ellipse cx="427.7" cy="260.5" rx="2.6" ry="1.2"/><ellipse cx="395.5" cy="273.5" rx="2.5" ry="1.4"/><ellipse cx="499.7" cy="252.8" rx="2.7" ry="1.6"/><ellipse cx="524.2" cy="265.4" rx="1.8" ry="1.3"/><ellipse cx="480.7" cy="259.8" rx="2.0" ry="2.1"/><ellipse cx="385.2" cy="252.8" rx="2.6" ry="2.1"/><ellipse cx="376.1" cy="279.1" rx="2.2" ry="2.4"/><ellipse cx="526.1" cy="281.4" rx="1.8" ry="2.0"/><ellipse cx="514.5" cy="279.1" rx="1.4" ry="2.3"/><ellipse cx="481.3" cy="251.2" rx="2.5" ry="1.6"/><ellipse cx="421.8" cy="259.7" rx="2.9" ry="1.3"/><ellipse cx="382.2" cy="270.8" rx="2.2" ry="1.5"/><ellipse cx="538.6" cy="265.5" rx="2.4" ry="2.3"/><ellipse cx="498.0" cy="265.4" rx="2.5" ry="1.5"/><ellipse cx="532.0" cy="248.7" rx="1.5" ry="1.7"/><ellipse cx="537.4" cy="276.9" rx="1.7" ry="1.8"/><ellipse cx="519.4" cy="278.9" rx="1.7" ry="2.2"/><ellipse cx="482.1" cy="262.9" rx="2.9" ry="2.4"/><ellipse cx="537.7" cy="307.8" rx="2.7" ry="2.0"/><ellipse cx="419.0" cy="267.1" rx="2.8" ry="1.3"/><ellipse cx="534.6" cy="254.0" rx="2.5" ry="2.0"/><ellipse cx="424.5" cy="263.8" rx="1.9" ry="2.3"/><ellipse cx="507.4" cy="264.8" rx="2.0" ry="1.6"/><ellipse cx="389.1" cy="285.5" rx="2.2" ry="1.4"/><ellipse cx="418.2" cy="251.7" rx="2.9" ry="1.6"/><ellipse cx="390.5" cy="264.0" rx="2.5" ry="2.4"/><ellipse cx="391.9" cy="265.0" rx="1.9" ry="1.6"/></g>
<rect x="370.95" y="248.1" width="167.9" height="167.9" fill="url(#grad)"/>
<circle cx="454.9" cy="330.0" r="40" fill="url(#gcen)"/>
<rect x="368.95" y="326.6" width="171.9" height="4.4" fill="url(#ghb)" filter="url(#gb)"/>
<rect x="368.95" y="328.8" width="171.9" height="1.8" fill="url(#ghb)" fill-opacity="0.5" filter="url(#gb)"/>
<rect x="444.9" y="248.1" width="20" height="167.9" fill="url(#gv)"/>
<ellipse cx="454.9" cy="330.05" rx="2.2" ry="45" fill="url(#gcore)" fill-opacity="0.7"/>
</g></g>
<text x="253.25" y="244.80" font-size="6.66" text-anchor="middle">Original Fundus Image Normal</text>
<text x="454.90" y="244.80" font-size="6.66" text-anchor="middle">FFT of Fundus Image Normal</text>
</svg>
</body></html>
